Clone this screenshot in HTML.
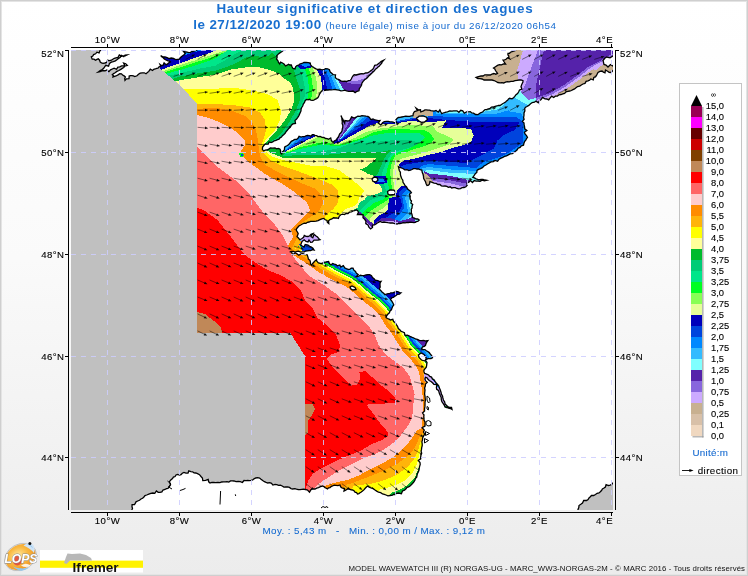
<!DOCTYPE html>
<html><head><meta charset="utf-8"><title>Hauteur significative et direction des vagues</title>
<style>html,body{margin:0;padding:0;background:#fff;}body{width:748px;height:576px;overflow:hidden;font-family:"Liberation Sans",sans-serif;}svg{display:block;will-change:transform;font-family:"Liberation Sans",sans-serif;}</style>
</head><body>
<svg width="748" height="576" viewBox="0 0 748 576">
<defs><linearGradient id="bg" x1="0" y1="0" x2="0" y2="1"><stop offset="0" stop-color="#ffffff"/><stop offset="0.45" stop-color="#fafafa"/><stop offset="1" stop-color="#ececec"/></linearGradient>
<clipPath id="mc"><rect x="71" y="50" width="542" height="460"/></clipPath>
<radialGradient id="lg" cx="0.45" cy="0.4" r="0.65"><stop offset="0" stop-color="#ffe9a0"/><stop offset="0.5" stop-color="#f9b840"/><stop offset="0.85" stop-color="#f09a28"/><stop offset="1" stop-color="#e8c890"/></radialGradient>
</defs>
<rect x="0" y="0" width="748" height="576" fill="url(#bg)"/>
<rect x="0.5" y="0.5" width="747" height="575" fill="none" stroke="#cfcfcf" stroke-width="1"/>
<rect x="1.5" y="1.5" width="745" height="573" fill="none" stroke="#e4e4e4" stroke-width="1"/>
<g clip-path="url(#mc)" shape-rendering="crispEdges">
<rect x="71" y="50" width="542" height="460" fill="#c0c0c0"/>
<g>
<polygon fill="#ff0000" points="160.0,40.0 160.0,68.5 175.0,81.0 185.0,90.5 197.0,104.0 197.0,332.5 290.0,332.5 305.0,356.0 305.0,500.0 450.0,500.0 613.0,300.0 613.0,40.0"/>
<polygon fill="#ff6666" points="100.0,207.5 197.0,207.5 205.0,211.0 217.5,220.0 227.5,232.5 235.0,242.5 245.0,255.0 255.0,262.5 267.5,270.0 280.0,275.0 291.5,281.3 301.0,290.9 305.0,300.0 313.0,309.0 317.6,318.0 326.6,324.8 335.6,333.8 340.0,345.0 339.0,351.9 331.0,354.5 326.6,358.7 333.3,367.7 342.4,376.7 351.4,385.7 357.0,384.6 360.4,379.0 359.3,372.2 365.0,371.0 371.7,376.7 378.5,383.5 387.5,390.2 394.3,397.0 397.6,402.4 385.2,403.5 369.4,403.5 367.2,405.8 374.0,414.8 380.7,423.8 387.5,431.7 388.6,435.0 383.0,439.6 371.7,444.0 360.4,450.9 349.0,455.4 337.9,460.0 328.8,464.4 319.8,469.0 313.0,473.5 308.5,480.0 306.3,487.0 304.0,492.0 304.0,520.0 460.0,520.0 620.0,300.0 620.0,30.0 100.0,30.0"/>
<polygon fill="#ffcccc" points="100.0,146.0 197.0,146.0 205.0,155.0 215.0,165.0 225.0,172.5 235.0,180.0 245.0,189.0 250.0,195.0 257.5,205.0 265.0,215.0 275.0,225.0 282.5,235.0 287.5,245.0 292.0,255.0 299.0,264.0 308.6,275.6 323.9,285.0 337.3,294.7 342.4,300.0 351.4,309.0 360.4,318.0 369.4,327.0 375.0,336.0 378.5,345.0 385.2,354.0 394.3,361.0 403.3,367.7 410.0,376.7 412.3,385.7 414.6,394.7 413.4,403.5 412.3,417.0 407.8,426.0 401.0,435.0 394.3,442.0 385.2,448.7 374.0,454.3 362.7,458.8 351.4,464.4 340.0,470.0 331.0,475.7 324.3,480.2 317.6,484.7 314.0,489.0 312.0,494.0 312.0,520.0 460.0,520.0 620.0,300.0 620.0,30.0 100.0,30.0"/>
<polygon fill="#ff8c00" points="100.0,115.0 197.0,115.0 207.5,117.5 220.0,122.5 232.5,129.0 240.0,135.0 245.0,141.0 244.5,146.0 241.0,151.0 243.0,157.0 250.0,163.0 265.0,174.0 280.0,182.5 295.0,192.5 307.0,202.5 310.0,210.0 300.0,220.0 291.0,229.0 293.0,237.0 288.0,246.0 291.5,253.7 304.8,262.3 318.2,271.8 333.4,280.4 346.8,287.0 356.3,294.7 362.0,300.0 371.0,307.0 379.5,315.5 385.2,324.8 392.0,333.8 397.6,342.9 403.3,351.9 410.0,358.7 415.7,365.4 419.0,372.2 420.6,381.2 422.0,390.2 423.0,400.0 423.0,415.0 421.5,428.0 416.8,430.6 412.3,437.4 407.8,444.0 401.0,451.0 392.0,457.7 380.7,464.4 369.4,470.0 358.2,475.7 346.9,480.2 335.6,482.5 328.8,484.7 322.0,487.0 320.0,494.0 320.0,520.0 460.0,520.0 620.0,300.0 620.0,30.0 100.0,30.0"/>
<polygon fill="#ffb40a" points="100.0,109.0 197.0,109.0 215.0,107.5 232.5,111.0 245.0,116.0 252.5,122.5 256.0,130.0 257.5,137.5 258.5,146.0 260.0,156.0 265.0,165.0 282.0,174.0 300.0,182.5 316.0,189.0 321.5,196.0 323.2,202.6 320.0,209.0 315.0,214.0 300.0,224.0 300.0,232.0 292.0,248.0 293.7,250.3 307.0,259.0 320.3,268.4 335.3,276.9 348.9,283.6 358.9,291.7 364.6,296.9 373.7,304.0 382.6,313.0 388.5,322.5 395.3,331.5 401.0,340.8 406.4,349.4 412.9,356.0 419.0,363.2 422.8,371.0 424.5,380.5 426.0,389.6 426.0,392.0 426.0,430.0 423.0,433.0 420.2,435.0 416.8,444.0 412.3,451.0 405.5,457.7 396.5,464.4 385.2,470.0 374.0,474.6 362.7,479.0 353.7,482.5 346.9,484.7 340.0,489.0 340.0,520.0 460.0,520.0 620.0,300.0 620.0,30.0 100.0,30.0"/>
<polygon fill="#ffff00" points="100.0,104.0 197.0,104.0 212.5,104.0 232.5,105.0 250.0,107.5 260.0,112.5 265.0,120.0 266.0,130.0 264.0,137.5 262.0,144.0 263.0,153.0 270.0,160.0 282.0,166.0 300.0,172.0 320.0,179.5 331.4,184.4 338.0,191.0 338.8,197.6 337.2,204.2 333.0,209.2 325.0,216.0 320.0,232.0 298.0,250.0 295.0,248.2 308.4,256.9 321.7,266.3 336.5,274.7 350.2,281.5 360.5,289.8 366.2,295.0 375.3,302.1 384.6,311.4 390.6,321.1 397.4,330.1 403.1,339.5 408.4,347.9 414.8,354.3 421.1,361.8 425.2,370.3 427.0,380.1 428.4,389.2 428.0,392.0 428.0,438.0 424.0,440.0 420.2,441.9 418.0,451.0 413.4,460.0 407.8,466.7 398.8,473.5 389.7,478.0 380.7,481.4 371.7,483.6 362.7,484.7 353.7,485.9 350.0,492.0 350.0,520.0 460.0,520.0 620.0,300.0 620.0,30.0 100.0,30.0"/>
<polygon fill="#ffff99" points="100.0,89.0 185.0,89.0 212.0,89.0 232.0,87.5 250.0,90.0 267.5,94.0 277.5,100.0 281.0,110.0 280.0,120.0 275.0,130.0 267.5,137.5 263.5,143.0 264.5,151.0 272.0,156.5 282.0,160.0 310.0,165.5 326.5,166.3 339.7,170.4 349.6,177.9 357.8,184.4 364.4,191.0 359.4,197.6 357.8,202.6 354.5,205.9 345.0,209.0 338.0,216.0 330.0,232.0 303.0,252.0 296.1,246.6 309.6,255.3 322.7,264.6 337.4,272.9 351.3,279.8 361.8,288.2 367.5,293.5 376.6,300.6 386.1,310.2 392.2,320.0 399.0,329.0 404.8,338.4 410.0,346.7 416.3,353.0 422.8,360.7 427.1,369.7 429.0,379.8 430.4,388.9 430.0,392.0 430.0,448.0 424.0,449.0 420.2,451.0 416.8,464.4 412.3,473.5 405.5,480.2 396.5,484.7 389.7,487.0 380.7,489.3 376.0,494.0 376.0,520.0 460.0,520.0 620.0,300.0 620.0,30.0 100.0,30.0"/>
<polygon fill="#00bb2d" points="100.0,81.5 175.0,81.5 180.0,80.2 200.0,77.0 214.0,74.9 231.0,69.5 246.0,67.4 260.0,67.4 271.7,70.6 279.0,73.8 283.4,78.0 290.0,82.4 293.0,88.0 294.0,95.0 294.0,102.0 291.0,110.0 284.6,121.0 277.0,130.0 269.0,139.0 264.0,144.5 266.0,150.0 272.0,153.5 282.0,157.5 310.0,158.0 345.0,158.0 376.0,158.0 371.0,163.0 366.0,167.0 360.3,169.6 367.7,173.7 375.0,176.0 376.0,182.8 380.9,186.0 382.5,191.0 376.0,194.3 366.0,196.8 364.4,200.0 359.4,202.6 357.8,207.5 354.5,209.0 352.0,216.0 340.0,232.0 308.0,254.0 296.9,245.3 310.4,254.0 323.5,263.4 338.1,271.6 352.1,278.5 362.8,287.1 368.4,292.3 377.6,299.5 387.3,309.3 393.5,319.2 400.2,328.1 406.1,337.6 411.2,345.7 417.4,351.9 424.0,359.9 428.6,369.2 430.5,379.6 431.9,388.7 432.0,392.0 432.0,460.0 424.0,462.0 419.0,466.7 414.6,478.0 407.8,484.7 401.0,489.3 392.0,492.6 388.0,497.0 388.0,520.0 460.0,520.0 620.0,300.0 620.0,30.0 100.0,30.0"/>
<polygon fill="#00ff22" points="312.0,256.0 297.5,244.5 311.0,253.2 324.1,262.5 338.6,270.7 352.6,277.7 363.4,286.3 369.1,291.6 378.3,298.8 388.1,308.6 394.3,318.6 401.1,327.6 406.9,337.1 412.0,345.1 418.1,351.3 424.9,359.3 429.5,368.9 431.5,379.4 432.9,388.5 440.0,392.0 460.0,392.0 460.0,250.0"/>
<polygon fill="#0044dd" points="312.0,256.0 298.1,243.5 311.6,252.2 324.7,261.5 339.1,269.6 353.3,276.7 364.2,285.4 369.8,290.6 379.1,297.9 389.0,307.9 395.3,317.9 402.1,326.9 407.9,336.4 412.9,344.4 419.0,350.4 425.9,358.6 430.7,368.6 432.6,379.2 434.1,388.3 440.0,392.0 460.0,392.0 460.0,250.0"/>
<polygon fill="#0088ff" points="312.0,256.0 299.1,241.9 312.7,250.7 325.7,260.0 340.0,268.0 354.2,275.1 365.4,284.1 371.0,289.3 380.3,296.5 390.4,306.8 396.8,316.9 403.5,325.9 409.5,335.5 414.3,343.3 420.3,349.2 427.3,357.6 432.4,368.1 434.4,378.9 435.8,388.0 440.0,392.0 460.0,392.0 460.0,250.0"/>
<polygon fill="#33bbff" points="312.0,256.0 300.2,240.3 313.8,249.1 326.8,258.3 340.9,266.3 355.3,273.4 366.7,282.5 372.3,287.7 381.6,295.0 392.0,305.5 398.4,315.8 405.2,324.8 411.2,334.4 415.9,342.0 421.8,347.9 429.0,356.5 434.3,367.5 436.4,378.6 437.8,387.7 440.0,392.0 460.0,392.0 460.0,250.0"/>
<polygon fill="#5522aa" points="426.8,311.6 406.8,323.6 412.9,333.4 417.5,340.8 423.3,346.5 430.7,355.4 436.2,366.9 438.4,378.2 439.8,387.4 440.0,392.0 460.0,392.0 460.0,320.0"/>
<polygon fill="#0000bb" points="312.0,256.0 301.5,238.2 315.2,247.0 328.1,256.2 342.1,264.1 356.6,271.3 368.3,280.6 373.9,285.8 383.3,293.2 394.0,304.0 400.5,314.4 460.0,322.0 460.0,250.0"/>
<polygon fill="#ccaaff" points="424.0,372.0 430.0,376.0 440.0,390.0 452.0,410.0 440.0,402.0 430.0,388.0 424.0,380.0"/>
<polygon fill="#ccaaff" points="301.0,233.0 322.0,233.0 322.0,243.0 301.0,243.0"/>
<polygon fill="#0044dd" points="302.0,244.0 316.0,244.0 316.0,251.0 302.0,251.0"/>
<polygon fill="#00ff22" points="239.0,153.5 242.0,152.5 244.0,154.5 243.0,157.0 240.0,157.0"/>
<polygon fill="#0044dd" points="240.5,154.5 242.5,154.0 243.0,156.0 241.0,156.3"/>
<polygon fill="#c08858" points="197.0,312.0 205.0,314.0 214.0,321.0 221.0,327.0 222.0,332.5 197.0,332.5"/>
<polygon fill="#c08858" points="305.0,403.5 313.0,404.5 315.0,409.0 312.0,415.0 308.5,420.0 307.5,433.0 305.0,435.0"/>
<polygon fill="#00cc77" points="283.0,156.0 290.0,155.6 300.0,155.1 323.0,155.0 340.0,153.5 350.0,152.0 380.0,152.0 391.0,150.0 386.0,156.0 384.0,159.0 381.0,166.0 377.0,175.0 375.0,176.0 376.0,182.8 380.9,186.0 382.5,191.0 376.0,194.3 366.0,196.8 364.4,200.0 359.4,202.6 357.8,207.5 354.5,209.0 352.0,216.0 352.0,232.0 460.0,232.0 545.0,150.0 620.0,90.0 620.0,30.0 470.0,30.0 470.0,95.0 420.0,100.0 300.0,130.0"/>
<polygon fill="#00e68a" points="284.0,154.5 290.0,153.7 300.0,151.9 323.0,151.4 340.0,148.0 350.0,143.7 375.0,142.0 395.0,140.0 410.0,140.0 420.5,143.0 415.0,146.0 407.0,148.5 395.0,151.5 391.0,154.0 387.0,161.0 383.0,170.0 381.0,178.0 384.0,184.0 386.0,191.0 380.0,197.0 370.0,200.0 366.0,204.0 361.0,209.0 358.0,216.0 358.0,232.0 460.0,232.0 545.0,150.0 620.0,90.0 620.0,30.0 470.0,30.0 470.0,95.0 420.0,100.0 300.0,130.0"/>
<polygon fill="#00ff22" points="285.0,153.0 290.0,152.3 300.0,149.0 312.0,146.5 323.0,144.4 337.0,146.5 348.0,144.0 358.3,140.5 371.6,135.7 387.0,132.9 419.0,132.9 425.4,137.2 420.0,142.6 415.7,145.0 407.0,149.3 395.0,153.6 391.0,158.0 388.0,166.0 386.0,176.0 388.0,183.0 389.5,191.0 384.0,199.0 374.0,203.0 369.0,207.0 364.0,211.0 361.0,216.0 361.0,232.0 460.0,232.0 545.0,150.0 620.0,90.0 620.0,30.0 470.0,30.0 470.0,95.0 420.0,100.0 300.0,130.0"/>
<polygon fill="#88ff55" points="286.0,152.0 290.0,151.5 300.0,147.2 312.0,144.5 323.0,142.0 330.0,143.5 337.0,145.2 345.0,143.5 353.5,140.5 362.0,138.0 374.0,132.0 393.0,128.5 410.0,129.5 424.0,130.0 430.0,133.0 433.9,139.0 431.5,142.6 425.4,145.7 415.7,148.7 407.0,151.7 395.0,155.4 393.0,160.0 391.0,166.0 390.0,172.0 391.0,180.0 392.0,190.0 388.0,200.0 378.0,206.0 372.0,210.0 367.0,214.0 364.0,218.0 364.0,232.0 460.0,232.0 545.0,150.0 620.0,90.0 620.0,30.0 470.0,30.0 470.0,95.0 420.0,100.0 300.0,130.0"/>
<polygon fill="#e6ff99" points="287.0,151.0 290.0,150.5 300.0,145.3 310.0,141.0 318.0,137.0 325.0,137.0 333.0,141.0 336.0,144.5 345.0,142.0 354.7,138.0 365.5,132.0 380.0,128.5 393.0,127.0 410.0,125.0 432.5,126.0 437.0,131.5 449.3,137.0 454.0,140.0 449.0,144.5 440.0,147.5 428.0,151.5 415.0,155.0 402.0,158.5 396.0,161.0 394.0,166.0 393.0,172.0 393.5,182.0 394.0,192.0 391.0,202.0 382.0,209.0 375.0,213.0 370.0,218.0 370.0,232.0 460.0,232.0 545.0,150.0 620.0,90.0 620.0,30.0 470.0,30.0 470.0,95.0 420.0,100.0 300.0,130.0"/>
<polygon fill="#0000bb" points="284.0,152.5 287.2,150.5 300.0,144.0 306.9,140.2 313.4,137.4 317.2,135.5 325.0,136.0 333.0,140.5 334.5,143.5 339.0,142.3 347.5,138.0 358.3,132.0 369.0,126.0 378.8,122.4 384.0,124.0 395.0,123.5 410.0,121.0 427.8,122.2 437.0,121.5 446.5,120.3 441.8,127.8 455.0,128.0 470.8,128.7 473.6,135.3 470.8,142.3 461.5,145.6 451.2,148.4 440.9,152.1 428.7,154.9 414.7,158.7 404.0,160.5 399.0,164.0 401.0,171.0 403.0,179.0 406.0,186.0 397.0,190.0 396.0,196.0 394.0,203.0 386.0,212.0 378.0,216.0 374.0,221.0 374.0,232.0 460.0,232.0 545.0,150.0 620.0,90.0 620.0,30.0 470.0,30.0 470.0,95.0 420.0,100.0 300.0,130.0"/>
<polygon fill="#0044dd" points="428.0,105.0 428.0,118.0 444.6,119.8 469.4,121.5 496.5,121.7 520.0,121.7 515.0,129.8 504.0,135.0 497.5,140.5 493.5,148.5 484.0,153.8 473.4,159.2 466.0,163.0 451.4,162.0 428.8,160.5 415.0,163.0 406.3,164.5 401.0,166.0 410.0,180.0 460.0,232.0 545.0,150.0 620.0,90.0 620.0,30.0 470.0,30.0 470.0,95.0"/>
<polygon fill="#0088ff" points="432.0,105.0 432.0,116.0 453.0,117.0 496.5,117.0 515.0,116.5 523.0,121.7 523.0,143.0 515.0,148.5 507.0,153.8 497.5,157.8 484.0,161.8 476.0,168.0 451.4,166.0 428.8,164.0 421.0,166.0 410.0,180.0 460.0,232.0 545.0,150.0 620.0,90.0 620.0,30.0 470.0,30.0 470.0,95.0"/>
<polygon fill="#33bbff" points="436.0,105.0 436.0,114.5 453.0,114.0 496.5,113.7 510.0,110.0 520.0,112.0 525.5,120.0 525.5,144.0 517.0,150.5 509.0,156.0 499.5,160.0 486.0,164.5 478.0,171.0 451.4,169.5 428.8,167.0 423.0,168.0 410.0,180.0 460.0,232.0 545.0,150.0 620.0,90.0 620.0,30.0 470.0,30.0 470.0,95.0"/>
<polygon fill="#80ffff" points="440.0,105.0 440.0,113.0 452.0,112.5 469.4,113.0 485.0,111.5 497.0,109.5 505.0,104.5 515.0,100.0 523.0,104.0 527.5,112.0 527.5,145.0 519.0,152.5 511.0,158.0 501.5,162.0 488.0,167.5 480.0,174.0 451.4,173.0 428.8,170.0 424.0,171.0 410.0,180.0 460.0,232.0 545.0,150.0 620.0,90.0 620.0,30.0 470.0,30.0 470.0,95.0"/>
<polygon fill="#5522aa" points="424.0,171.0 428.8,173.5 451.4,176.0 470.0,180.5 470.0,195.0 420.0,195.0"/>
<polygon fill="#8866dd" points="424.0,176.0 428.8,177.5 451.4,180.5 468.0,184.0 468.0,195.0 420.0,195.0"/>
<polygon fill="#ccaaff" points="424.0,179.0 428.8,180.3 451.4,183.5 465.0,187.0 465.0,195.0 420.0,195.0"/>
<polygon fill="#c8b090" points="421.0,172.0 426.0,174.0 431.0,179.0 433.5,183.0 436.0,186.0 436.0,195.0 420.0,195.0"/>
<polygon fill="#33bbff" points="504.0,104.0 508.0,99.0 516.0,95.0 522.0,102.0 528.0,104.0 527.0,112.0 522.0,113.0 510.0,112.0"/>
<polygon fill="#80ffff" points="514.0,97.0 521.0,92.0 528.0,100.0 536.0,98.0 537.0,103.0 528.0,105.0 522.0,102.0"/>
<polygon fill="#c8b090" points="470.0,40.0 523.0,40.0 523.0,50.0 520.0,61.0 517.0,71.0 520.0,82.0 521.0,88.0 470.0,95.0"/>
<polygon fill="#ccaaff" points="523.0,40.0 538.0,40.0 538.0,50.0 530.0,71.0 525.0,85.0 521.0,92.0 519.0,86.0 517.0,71.0 520.0,61.0 523.0,50.0"/>
<polygon fill="#8866dd" points="538.0,40.0 544.0,40.0 544.0,50.0 539.0,71.0 536.0,85.0 536.0,98.0 528.0,100.0 521.0,92.0 525.0,85.0 530.0,71.0 538.0,50.0"/>
<polygon fill="#5522aa" points="544.0,40.0 620.0,40.0 620.0,50.0 610.0,55.0 598.0,62.0 588.0,67.0 578.0,75.0 564.0,85.0 550.0,93.0 536.0,98.0 536.0,85.0 539.0,71.0 544.0,50.0"/>
<polygon fill="#8866dd" points="536.0,98.0 550.0,93.0 564.0,85.0 578.0,75.0 588.0,67.0 598.0,62.0 610.0,55.0 620.0,50.0 620.0,110.0 536.0,110.0"/>
<polygon fill="#ccaaff" points="537.1,99.9 551.1,94.9 565.1,86.9 579.1,76.9 589.1,68.9 599.1,63.9 611.1,56.9 621.1,51.9 620.0,110.0 540.0,110.0"/>
<polygon fill="#c8b090" points="538.3,102.0 552.3,97.0 566.3,89.0 580.3,79.0 590.3,71.0 600.3,66.0 612.3,59.0 622.3,54.0 620.0,110.0 545.0,110.0"/>
<polygon fill="#ccaaff" points="590.0,68.0 598.0,63.5 608.0,58.0 613.0,56.0 620.0,56.0 620.0,70.0 600.0,72.0"/>
<polygon fill="#c8b090" points="596.0,70.0 601.0,66.0 606.0,62.5 613.0,60.0 620.0,60.0 620.0,80.0 600.0,80.0"/>
<polygon fill="#0044dd" points="338.0,141.5 390.8,107.4 342.4,107.4"/>
<polygon fill="#0088ff" points="338.0,141.5 379.8,107.4 342.4,107.4"/>
<polygon fill="#33bbff" points="338.0,141.5 374.3,107.4 342.4,107.4"/>
<polygon fill="#80ffff" points="338.0,141.5 369.5,107.4 342.4,107.4"/>
<polygon fill="#5522aa" points="338.0,141.5 364.4,107.4 342.4,107.4"/>
<polygon fill="#8866dd" points="338.0,141.5 357.4,107.4 342.4,107.4"/>
<polygon fill="#0000bb" points="402.0,186.0 397.0,190.0 396.0,196.0 394.0,203.0 386.0,212.0 378.0,216.0 374.0,221.0 374.0,232.0 420.0,232.0 420.0,186.0"/>
<polygon fill="#0044dd" points="404.0,188.0 399.5,192.0 399.0,198.0 399.5,203.0 397.0,209.0 392.0,214.0 385.0,218.0 380.0,224.0 380.0,232.0 420.0,232.0 420.0,188.0"/>
<polygon fill="#0088ff" points="406.0,190.0 402.0,195.0 403.0,200.0 404.0,208.0 401.0,213.0 396.0,217.0 392.0,221.0 392.0,232.0 420.0,232.0 420.0,190.0"/>
<polygon fill="#33bbff" points="408.0,193.0 405.0,198.0 407.0,205.0 408.0,212.0 405.0,216.0 400.0,220.0 400.0,232.0 420.0,232.0 420.0,193.0"/>
<polygon fill="#80ffff" points="410.0,197.0 408.5,202.0 410.0,210.0 411.0,216.0 406.0,220.0 406.0,232.0 420.0,232.0 420.0,197.0"/>
<polygon fill="#0000bb" points="374.0,176.5 386.0,176.0 387.5,183.0 378.0,184.5 374.0,183.0"/>
<polygon fill="#0088ff" points="376.0,178.0 383.0,177.5 384.5,181.5 377.0,182.5"/>
<polygon fill="#0000bb" points="389.0,198.0 395.0,197.0 401.0,199.0 402.0,206.0 399.0,212.0 392.0,213.0 388.0,208.0"/>
<polygon fill="#5522aa" points="357.0,211.0 362.0,213.0 368.0,220.0 374.0,224.0 382.0,218.0 392.0,218.5 400.0,221.0 408.0,219.0 414.0,216.0 416.0,222.0 400.0,230.0 372.0,232.0 360.0,220.0"/>
<polygon fill="#ccaaff" points="362.0,216.0 367.0,223.0 372.0,227.0 378.0,222.0 386.0,220.5 394.0,221.5 402.0,223.5 410.0,222.0 416.0,224.0 400.0,230.0 372.0,232.0"/>
<polygon fill="#0044dd" points="283.0,152.0 310.0,137.5 310.0,128.0 283.0,140.0"/>
<polygon fill="#0088ff" points="283.0,152.0 303.0,138.0 303.0,128.0 283.0,140.0"/>
<polygon fill="#33bbff" points="283.0,152.0 297.0,139.5 297.0,128.0 283.0,140.0"/>
<polygon fill="#0044dd" points="380.0,120.0 380.0,123.0 395.0,122.5 410.0,120.0 416.0,118.5 428.0,118.0 428.0,105.0 380.0,105.0"/>
<polygon fill="#33bbff" points="380.0,120.0 380.0,122.0 395.0,121.5 410.0,118.5 416.0,117.0 428.0,116.5 428.0,105.0 380.0,105.0"/>
<polygon fill="#c8b090" points="413.0,106.0 433.0,106.0 433.0,116.5 428.0,116.0 422.0,115.0 416.0,117.5 413.0,118.0"/>
<polygon fill="#00cc77" points="293.0,60.0 293.0,66.0 296.0,77.0 300.0,90.0 300.0,100.0 296.0,110.0 290.0,121.0 283.0,131.0 277.0,138.0 268.0,143.0 262.0,146.0 300.0,130.0 330.0,100.0 400.0,100.0 400.0,50.0 293.0,50.0"/>
<polygon fill="#00e68a" points="299.0,60.0 299.0,66.0 302.7,77.0 305.0,88.0 304.5,97.0 301.0,105.0 297.0,113.0 310.0,110.0 330.0,100.0 400.0,100.0 400.0,50.0 299.0,50.0"/>
<polygon fill="#00ff22" points="304.0,60.0 304.0,66.0 307.5,77.0 309.0,88.0 308.0,97.0 305.0,103.0 315.0,105.0 330.0,100.0 400.0,100.0 400.0,50.0 304.0,50.0"/>
<polygon fill="#88ff55" points="308.0,60.0 308.0,66.0 311.3,77.0 313.0,88.0 311.5,97.0 309.0,101.0 330.0,100.0 400.0,100.0 400.0,50.0 308.0,50.0"/>
<polygon fill="#e6ff99" points="312.0,60.0 312.0,66.0 316.0,77.0 317.5,88.0 316.0,97.0 330.0,100.0 400.0,100.0 400.0,50.0 312.0,50.0"/>
<polygon fill="#0000bb" points="316.0,60.0 316.0,68.0 320.8,77.0 322.5,88.0 321.0,95.0 330.0,100.0 400.0,100.0 400.0,50.0 316.0,50.0"/>
<polygon fill="#0044dd" points="320.0,60.0 320.0,68.0 324.7,77.0 327.0,88.0 327.0,95.0 330.0,100.0 400.0,100.0 400.0,50.0 320.0,50.0"/>
<polygon fill="#0088ff" points="324.0,60.0 324.0,69.0 328.5,77.0 332.0,88.0 332.0,100.0 400.0,100.0 400.0,50.0 324.0,50.0"/>
<polygon fill="#33bbff" points="328.0,60.0 328.0,69.0 331.3,77.0 336.0,88.0 336.0,100.0 400.0,100.0 400.0,50.0 328.0,50.0"/>
<polygon fill="#80ffff" points="331.0,60.0 331.0,70.0 334.0,77.0 340.0,89.0 340.0,100.0 400.0,100.0 400.0,50.0 331.0,50.0"/>
<polygon fill="#5522aa" points="334.0,60.0 334.0,74.0 337.0,78.5 344.0,90.0 344.0,100.0 400.0,100.0 400.0,50.0 334.0,50.0"/>
<polygon fill="#8866dd" points="339.0,79.0 345.0,82.0 355.0,84.5 363.0,84.0 372.0,75.0 384.0,62.0 390.0,50.0 340.0,50.0"/>
<polygon fill="#ccaaff" points="343.0,78.0 350.0,81.0 357.0,81.0 365.0,78.0 373.0,71.0 384.0,60.0 390.0,50.0 343.0,50.0"/>
<polygon fill="#c8b090" points="371.0,68.0 376.0,64.0 382.0,59.0 390.0,50.0 371.0,50.0"/>
<polygon fill="#0000bb" points="297.0,66.0 300.0,63.0 305.0,62.0 311.0,63.0 313.0,67.0 306.0,68.5 300.0,68.5"/>
<polygon fill="#0088ff" points="299.0,64.5 303.0,62.5 309.0,63.0 311.0,66.0 305.0,66.8"/>
<polygon fill="#00cc77" points="165.0,80.0 172.0,79.0 180.0,76.5 200.0,73.0 215.0,70.8 225.7,67.4 236.4,63.1 245.0,57.8 252.4,56.2 263.0,56.7 268.5,55.6 272.8,52.4 275.0,50.3 276.0,45.0 276.0,40.0 150.0,40.0 150.0,80.0"/>
<polygon fill="#00e68a" points="162.0,78.0 169.0,75.5 180.0,73.3 200.0,68.5 215.0,65.8 225.7,59.9 234.3,54.6 241.7,50.3 243.0,45.0 243.0,40.0 150.0,40.0 150.0,78.0"/>
<polygon fill="#00ff22" points="160.0,76.0 167.0,73.5 180.0,70.0 200.0,64.0 215.0,58.8 221.4,54.6 226.8,50.3 228.0,45.0 228.0,40.0 150.0,40.0 150.0,76.0"/>
<polygon fill="#88ff55" points="158.0,75.0 165.5,72.0 180.0,67.4 200.0,61.0 214.0,56.7 225.0,52.0 231.0,48.0 232.0,45.0 232.0,40.0 150.0,40.0 150.0,75.0"/>
<polygon fill="#e6ff99" points="157.0,74.0 164.0,70.8 180.0,65.3 200.0,58.7 214.0,54.0 226.0,50.0 228.0,45.0 228.0,40.0 150.0,40.0 150.0,74.0"/>
<polygon fill="#0000bb" points="155.0,73.0 162.0,69.4 180.0,63.1 200.0,56.2 214.0,51.3 217.8,50.0 219.0,45.0 219.0,40.0 150.0,40.0 150.0,73.0"/>
<polygon fill="#0088ff" points="186.0,55.0 192.0,52.5 200.0,51.0 204.0,50.0 205.0,45.0 186.0,45.0 186.0,40.0 150.0,40.0 150.0,55.0"/>
<polygon fill="#00cc77" points="268.0,50.0 276.0,56.0 277.0,62.0 281.0,65.0 290.0,62.0 285.0,50.0"/>
<polygon fill="#c0c0c0" points="60.0,40.0 160.0,40.0 160.0,68.5 175.0,81.0 185.0,90.5 197.0,104.0 197.0,332.5 290.0,332.5 305.0,356.0 305.0,520.0 60.0,520.0"/>
</g></g>
<g clip-path="url(#mc)">
<path d="M173.6 59.4L180.6 56.3M185.6 59.4L192.4 55.8M197.6 59.4L204.3 55.6M209.6 59.4L216.4 55.7M221.6 59.4L228.6 56.1M233.7 59.4L240.6 56.1M245.7 59.4L252.5 55.8M257.7 59.4L264.6 55.9M269.7 59.4L276.8 56.3M510.1 59.4L517.0 56.0M522.1 59.4L529.0 55.9M534.2 59.4L541.0 55.8M546.2 59.4L553.0 55.8M558.2 59.4L565.2 56.1M570.2 59.4L577.4 56.5M582.2 59.4L589.4 56.5M594.3 59.4L601.6 57.1M173.6 76.4L180.9 74.1M185.6 76.4L192.8 73.8M197.6 76.4L204.8 73.6M209.6 76.4L216.8 73.7M221.6 76.4L228.9 73.9M233.7 76.4L240.9 73.8M245.7 76.4L252.9 73.7M257.7 76.4L264.9 73.7M269.7 76.4L277.0 73.9M281.7 76.4L289.0 73.9M293.8 76.4L300.9 73.5M305.8 76.4L312.9 73.4M317.8 76.4L324.7 72.9M329.8 76.4L336.6 72.8M353.9 76.4L360.5 72.5M365.9 76.4L372.6 72.5M486.1 76.4L493.2 73.4M498.1 76.4L505.1 73.1M510.1 76.4L517.0 72.9M522.1 76.4L529.0 72.8M534.2 76.4L541.0 72.8M546.2 76.4L553.0 72.8M558.2 76.4L565.1 73.0M570.2 76.4L577.4 73.6M582.2 76.4L589.7 74.3M594.3 76.4L601.8 74.8M197.6 93.3L205.2 92.3M209.6 93.3L217.2 92.2M221.6 93.3L229.2 92.1M233.7 93.3L241.2 91.7M245.7 93.3L253.2 91.5M257.7 93.3L265.2 91.5M269.7 93.3L277.2 91.7M281.7 93.3L289.3 91.7M293.8 93.3L300.9 90.5M305.8 93.3L312.9 90.5M317.8 93.3L324.9 90.3M522.1 93.3L528.8 89.5M534.2 93.3L540.8 89.5M546.2 93.3L553.0 89.7M558.2 93.3L565.1 90.0M197.6 110.3L205.3 110.2M209.6 110.3L217.3 110.2M221.6 110.3L229.3 110.1M233.7 110.3L241.3 109.9M245.7 110.3L253.4 109.7M257.7 110.3L265.4 109.6M269.7 110.3L277.4 109.5M281.7 110.3L289.4 109.5M293.8 110.3L301.3 108.8M486.1 110.3L493.5 108.3M498.1 110.3L505.3 107.5M510.1 110.3L516.9 106.7M522.1 110.3L528.8 106.5M197.6 127.3L205.3 128.0M209.6 127.3L217.3 127.9M221.6 127.3L229.3 127.8M233.7 127.3L241.4 127.6M245.7 127.3L253.4 127.5M257.7 127.3L265.4 127.4M269.7 127.3L277.4 127.2M281.7 127.3L289.4 127.0M353.9 127.3L361.3 125.3M365.9 127.3L373.3 125.2M377.9 127.3L385.2 124.8M389.9 127.3L397.0 124.2M401.9 127.3L408.9 124.0M414.0 127.3L421.1 124.4M426.0 127.3L433.1 124.4M438.0 127.3L445.2 124.5M450.0 127.3L457.5 125.5M462.0 127.3L469.7 126.2M474.1 127.3L481.7 126.2M486.1 127.3L493.7 126.1M498.1 127.3L505.7 126.0M510.1 127.3L517.7 126.1M522.1 127.3L529.8 126.2M197.6 144.2L205.2 145.6M209.6 144.2L217.2 145.5M221.6 144.2L229.3 145.3M233.7 144.2L241.3 145.1M245.7 144.2L253.4 144.9M257.7 144.2L265.4 144.8M293.8 144.2L301.2 142.3M305.8 144.2L313.3 142.4M317.8 144.2L325.4 142.9M329.8 144.2L337.4 142.8M341.8 144.2L349.2 142.0M353.9 144.2L361.2 141.9M365.9 144.2L373.3 142.3M377.9 144.2L385.4 142.6M389.9 144.2L397.4 142.4M401.9 144.2L409.4 142.3M414.0 144.2L421.4 142.4M426.0 144.2L433.5 142.7M438.0 144.2L445.6 143.1M450.0 144.2L457.6 143.2M462.0 144.2L469.7 143.2M474.1 144.2L481.7 143.3M486.1 144.2L493.7 143.6M498.1 144.2L505.8 143.6M510.1 144.2L517.8 143.6M522.1 144.2L529.8 143.4M197.6 161.2L205.1 162.8M209.6 161.2L217.2 162.8M221.6 161.2L229.2 162.6M233.7 161.2L241.3 162.3M245.7 161.2L253.3 162.3M257.7 161.2L265.3 162.3M269.7 161.2L277.4 161.8M281.7 161.2L289.4 161.3M293.8 161.2L301.5 161.2M305.8 161.2L313.5 161.4M317.8 161.2L325.5 161.3M329.8 161.2L337.5 161.2M341.8 161.2L349.5 161.2M353.9 161.2L361.6 161.1M365.9 161.2L373.6 161.0M377.9 161.2L385.6 161.1M389.9 161.2L397.6 161.3M401.9 161.2L409.6 161.4M414.0 161.2L421.7 161.1M426.0 161.2L433.7 160.8M438.0 161.2L445.7 161.0M450.0 161.2L457.7 161.1M462.0 161.2L469.7 161.1M474.1 161.2L481.8 161.0M486.1 161.2L493.8 161.3M197.6 178.2L205.0 180.2M209.6 178.2L217.1 180.2M221.6 178.2L229.1 180.0M233.7 178.2L241.2 179.6M245.7 178.2L253.3 179.3M257.7 178.2L265.3 179.1M269.7 178.2L277.4 179.0M281.7 178.2L289.4 179.0M293.8 178.2L301.4 178.6M305.8 178.2L313.5 178.6M317.8 178.2L325.5 178.8M329.8 178.2L337.5 178.8M341.8 178.2L349.5 178.7M353.9 178.2L361.5 178.7M365.9 178.2L373.6 178.8M377.9 178.2L385.6 178.9M389.9 178.2L397.6 178.8M426.0 178.2L433.7 178.7M438.0 178.2L445.6 179.1M450.0 178.2L457.6 179.3M462.0 178.2L469.7 179.2M474.1 178.2L481.7 178.7M197.6 195.2L204.9 197.5M209.6 195.2L217.0 197.5M221.6 195.2L229.0 197.3M233.7 195.2L241.1 197.0M245.7 195.2L253.2 196.7M257.7 195.2L265.3 196.4M269.7 195.2L277.3 196.4M281.7 195.2L289.3 196.5M293.8 195.2L301.3 196.5M305.8 195.2L313.4 196.4M317.8 195.2L325.4 196.3M329.8 195.2L337.4 196.4M341.8 195.2L349.4 196.4M353.9 195.2L361.5 196.3M365.9 195.2L373.5 196.1M377.9 195.2L385.5 196.2M389.9 195.2L397.5 196.2M401.9 195.2L409.6 196.2M197.6 212.1L204.8 214.8M209.6 212.1L216.9 214.7M221.6 212.1L228.9 214.6M233.7 212.1L241.0 214.3M245.7 212.1L253.1 214.0M257.7 212.1L265.2 213.8M269.7 212.1L277.2 213.8M281.7 212.1L289.3 213.7M293.8 212.1L301.3 213.7M305.8 212.1L313.3 213.7M317.8 212.1L325.4 213.6M329.8 212.1L337.4 213.6M341.8 212.1L349.4 213.6M365.9 212.1L373.5 213.3M377.9 212.1L385.5 213.3M389.9 212.1L397.5 213.4M401.9 212.1L409.5 213.5M197.6 229.1L204.7 232.0M209.6 229.1L216.8 232.0M221.6 229.1L228.8 231.8M233.7 229.1L241.0 231.6M245.7 229.1L253.1 231.3M257.7 229.1L265.1 231.2M269.7 229.1L277.2 231.1M281.7 229.1L289.2 231.1M293.8 229.1L301.2 231.1M197.6 246.1L204.7 249.1M209.6 246.1L216.7 249.1M221.6 246.1L228.8 248.9M233.7 246.1L240.9 248.7M245.7 246.1L253.0 248.5M257.7 246.1L265.0 248.4M269.7 246.1L277.1 248.4M281.7 246.1L289.1 248.4M293.8 246.1L301.1 248.4M305.8 246.1L313.1 248.4M197.6 263.0L204.6 266.2M209.6 263.0L216.7 266.2M221.6 263.0L228.7 266.0M233.7 263.0L240.8 265.8M245.7 263.0L252.9 265.7M257.7 263.0L265.0 265.6M269.7 263.0L277.0 265.7M281.7 263.0L288.9 265.8M293.8 263.0L300.9 265.8M305.8 263.0L313.0 265.7M317.8 263.0L325.1 265.6M197.6 280.0L204.7 283.0M209.6 280.0L216.7 283.0M221.6 280.0L228.8 282.9M233.7 280.0L240.8 282.9M245.7 280.0L252.8 282.9M257.7 280.0L264.9 282.9M269.7 280.0L276.9 282.7M281.7 280.0L289.0 282.7M293.8 280.0L301.0 282.6M305.8 280.0L313.1 282.5M317.8 280.0L325.1 282.5M329.8 280.0L337.1 282.5M341.8 280.0L349.2 282.2M353.9 280.0L361.3 281.9M365.9 280.0L373.4 281.7M197.6 297.0L204.7 299.9M209.6 297.0L216.7 300.0M221.6 297.0L228.7 300.1M233.7 297.0L240.7 300.2M245.7 297.0L252.7 300.2M257.7 297.0L264.7 300.2M269.7 297.0L276.8 300.1M281.7 297.0L288.9 299.8M293.8 297.0L301.0 299.7M305.8 297.0L313.0 299.6M317.8 297.0L325.1 299.4M329.8 297.0L337.2 299.2M341.8 297.0L349.3 299.0M353.9 297.0L361.3 298.9M365.9 297.0L373.4 298.8M377.9 297.0L385.4 298.7M389.9 297.0L397.5 298.6M197.6 313.9L204.6 317.2M209.6 313.9L216.6 317.2M221.6 313.9L228.7 317.1M233.7 313.9L240.7 317.1M245.7 313.9L252.7 317.1M257.7 313.9L264.7 317.1M269.7 313.9L276.8 316.9M281.7 313.9L288.9 316.8M293.8 313.9L300.9 316.8M305.8 313.9L312.9 316.8M317.8 313.9L325.0 316.6M329.8 313.9L337.2 316.2M341.8 313.9L349.3 316.0M353.9 313.9L361.3 315.9M365.9 313.9L373.3 315.9M377.9 313.9L385.4 315.5M197.6 330.9L204.5 334.3M209.6 330.9L216.5 334.3M221.6 330.9L228.6 334.2M233.7 330.9L240.7 334.0M245.7 330.9L252.8 333.9M257.7 330.9L264.8 333.8M269.7 330.9L276.9 333.8M281.7 330.9L288.9 333.7M293.8 330.9L300.9 333.7M305.8 330.9L313.0 333.7M317.8 330.9L325.0 333.5M329.8 330.9L337.2 333.3M341.8 330.9L349.2 333.1M353.9 330.9L361.3 333.0M365.9 330.9L373.3 332.9M377.9 330.9L385.4 332.7M389.9 330.9L397.5 332.4M305.8 347.9L312.9 350.8M317.8 347.9L325.0 350.7M329.8 347.9L337.1 350.3M341.8 347.9L349.2 350.1M353.9 347.9L361.3 350.0M365.9 347.9L373.3 350.0M377.9 347.9L385.3 349.9M389.9 347.9L397.5 349.5M401.9 347.9L409.5 349.2M414.0 347.9L421.5 349.2M305.8 364.9L312.9 367.8M317.8 364.9L324.9 367.7M329.8 364.9L337.0 367.5M341.8 364.9L349.1 367.3M353.9 364.9L361.2 367.2M365.9 364.9L373.2 367.2M377.9 364.9L385.3 367.1M389.9 364.9L397.4 366.8M401.9 364.9L409.4 366.6M414.0 364.9L421.5 366.5M426.0 364.9L433.5 366.6M305.8 381.8L312.8 385.1M317.8 381.8L324.8 385.0M329.8 381.8L336.9 384.8M341.8 381.8L349.1 384.4M353.9 381.8L361.1 384.3M365.9 381.8L373.2 384.3M377.9 381.8L385.2 384.3M389.9 381.8L397.3 384.0M401.9 381.8L409.4 383.7M414.0 381.8L421.5 383.6M305.8 398.8L312.6 402.3M317.8 398.8L324.7 402.2M329.8 398.8L336.8 402.0M341.8 398.8L349.0 401.6M353.9 398.8L361.1 401.4M365.9 398.8L373.1 401.4M377.9 398.8L385.2 401.4M389.9 398.8L397.3 401.0M401.9 398.8L409.4 400.6M414.0 398.8L421.5 400.2M305.8 415.8L312.6 419.4M317.8 415.8L324.6 419.4M329.8 415.8L336.7 419.2M341.8 415.8L348.9 418.9M353.9 415.8L361.0 418.6M365.9 415.8L373.1 418.5M377.9 415.8L385.1 418.4M389.9 415.8L397.2 418.3M401.9 415.8L409.3 418.2M414.0 415.8L421.3 418.1M305.8 432.7L312.4 436.6M317.8 432.7L324.5 436.6M329.8 432.7L336.6 436.5M341.8 432.7L348.7 436.3M353.9 432.7L360.8 436.1M365.9 432.7L372.8 436.0M377.9 432.7L384.9 435.9M389.9 432.7L397.0 435.8M401.9 432.7L409.1 435.6M414.0 432.7L421.1 435.6M305.8 449.7L312.3 453.8M317.8 449.7L324.3 453.8M329.8 449.7L336.4 453.7M341.8 449.7L348.5 453.7M353.9 449.7L360.5 453.6M365.9 449.7L372.6 453.5M377.9 449.7L384.6 453.5M389.9 449.7L396.6 453.6M401.9 449.7L408.6 453.6M414.0 449.7L420.7 453.5M305.8 466.7L312.1 471.1M317.8 466.7L324.1 471.1M329.8 466.7L336.1 471.1M341.8 466.7L348.2 471.0M353.9 466.7L360.3 470.9M365.9 466.7L372.3 471.0M377.9 466.7L384.2 471.1M389.9 466.7L396.0 471.4M401.9 466.7L408.0 471.4M414.0 466.7L420.1 471.3M305.8 483.6L311.9 488.4M317.8 483.6L323.8 488.5M329.8 483.6L335.8 488.5M341.8 483.6L348.0 488.3M353.9 483.6L360.1 488.2M365.9 483.6L372.1 488.2M377.9 483.6L384.0 488.4M389.9 483.6L395.8 488.6M401.9 483.6L407.8 488.6" stroke="#000" stroke-width="0.9" fill="none" opacity="0.55"/>
<path d="M183.4 55.1L180.9 57.7L179.8 55.2ZM195.1 54.4L192.8 57.2L191.5 54.8ZM206.9 54.1L204.7 56.9L203.3 54.5ZM219.0 54.2L216.7 57.0L215.4 54.6ZM231.3 54.9L228.9 57.5L227.8 55.1ZM243.3 54.8L240.9 57.5L239.8 55.0ZM255.1 54.4L252.9 57.1L251.6 54.7ZM267.3 54.6L264.9 57.3L263.7 54.9ZM279.5 55.0L277.0 57.6L275.9 55.2ZM519.7 54.7L517.4 57.3L516.2 54.9ZM531.6 54.5L529.3 57.2L528.1 54.8ZM543.6 54.4L541.3 57.1L540.1 54.7ZM555.6 54.4L553.4 57.1L552.1 54.7ZM567.9 54.8L565.5 57.5L564.3 55.0ZM580.1 55.4L577.6 57.9L576.6 55.4ZM592.2 55.4L589.6 57.9L588.6 55.4ZM604.5 56.2L601.7 58.5L600.9 55.9ZM183.8 73.2L181.0 75.5L180.2 72.9ZM195.7 72.8L193.0 75.2L192.1 72.6ZM207.6 72.5L205.0 75.0L204.0 72.5ZM219.7 72.7L217.0 75.1L216.1 72.5ZM231.8 72.9L229.1 75.3L228.2 72.7ZM243.7 72.8L241.1 75.2L240.2 72.6ZM255.7 72.7L253.1 75.1L252.2 72.6ZM267.8 72.7L265.1 75.1L264.2 72.6ZM279.8 72.9L277.2 75.2L276.3 72.7ZM291.9 72.9L289.2 75.2L288.3 72.7ZM303.7 72.4L301.1 74.8L300.1 72.3ZM315.6 72.2L313.1 74.7L312.1 72.2ZM327.3 71.5L325.0 74.2L323.8 71.8ZM339.3 71.3L337.0 74.1L335.7 71.7ZM363.1 71.0L360.9 73.8L359.6 71.5ZM375.1 71.0L373.0 73.8L371.6 71.5ZM496.0 72.3L493.4 74.8L492.4 72.3ZM507.8 71.9L505.4 74.5L504.2 72.0ZM519.7 71.6L517.3 74.3L516.1 71.8ZM531.6 71.4L529.3 74.1L528.1 71.7ZM543.6 71.4L541.3 74.1L540.1 71.7ZM555.6 71.4L553.4 74.1L552.1 71.7ZM567.8 71.7L565.4 74.3L564.3 71.9ZM580.2 72.5L577.6 75.0L576.6 72.4ZM592.6 73.5L589.7 75.7L589.0 73.1ZM604.7 74.1L601.8 76.1L601.2 73.5ZM208.2 91.9L205.1 93.6L204.7 91.0ZM220.2 91.8L217.1 93.6L216.8 91.0ZM232.2 91.6L229.2 93.4L228.7 90.8ZM244.1 91.1L241.2 93.1L240.6 90.5ZM256.1 90.8L253.2 92.9L252.5 90.2ZM268.1 90.8L265.2 92.9L264.6 90.3ZM280.2 91.0L277.2 93.0L276.6 90.4ZM292.2 91.1L289.3 93.1L288.7 90.5ZM303.7 89.3L301.1 91.8L300.1 89.3ZM315.7 89.3L313.1 91.8L312.1 89.3ZM327.6 89.1L325.1 91.7L324.1 89.2ZM531.4 88.0L529.2 90.8L527.9 88.5ZM543.4 88.0L541.2 90.8L539.9 88.5ZM555.6 88.3L553.3 91.0L552.0 88.6ZM567.9 88.7L565.5 91.4L564.3 88.9ZM208.3 110.1L205.0 111.5L205.0 108.8ZM220.3 110.1L217.0 111.5L217.0 108.8ZM232.3 110.0L229.1 111.4L229.0 108.7ZM244.3 109.7L241.1 111.2L241.0 108.5ZM256.3 109.4L253.2 111.0L252.9 108.4ZM268.3 109.3L265.2 110.9L264.9 108.2ZM280.4 109.2L277.2 110.9L276.9 108.2ZM292.4 109.2L289.2 110.9L289.0 108.2ZM304.3 108.2L301.3 110.2L300.8 107.5ZM496.4 107.6L493.6 109.7L492.9 107.1ZM508.1 106.4L505.5 108.9L504.5 106.4ZM519.6 105.3L517.3 108.0L516.0 105.6ZM531.4 105.0L529.2 107.8L527.9 105.4ZM208.3 128.2L204.9 129.3L205.1 126.6ZM220.3 128.2L216.9 129.3L217.1 126.6ZM232.3 128.0L228.9 129.1L229.1 126.4ZM244.3 127.8L241.0 129.0L241.1 126.3ZM256.4 127.6L253.0 128.9L253.1 126.2ZM268.4 127.5L265.1 128.8L265.1 126.1ZM280.4 127.2L277.1 128.6L277.1 125.9ZM292.4 126.9L289.2 128.4L289.1 125.7ZM364.2 124.5L361.4 126.7L360.7 124.1ZM376.2 124.4L373.4 126.6L372.6 124.0ZM388.0 123.8L385.3 126.2L384.5 123.6ZM399.7 123.0L397.2 125.5L396.2 123.1ZM411.6 122.8L409.2 125.4L408.1 122.9ZM423.9 123.3L421.3 125.8L420.3 123.3ZM435.9 123.3L433.3 125.8L432.3 123.3ZM448.0 123.4L445.4 125.9L444.4 123.3ZM460.4 124.9L457.5 126.9L456.9 124.3ZM472.6 125.7L469.6 127.6L469.2 124.9ZM484.7 125.8L481.6 127.6L481.2 124.9ZM496.7 125.7L493.6 127.5L493.2 124.8ZM508.7 125.5L505.6 127.4L505.2 124.7ZM520.7 125.7L517.6 127.5L517.2 124.8ZM532.7 125.8L529.7 127.6L529.3 124.9ZM208.1 146.1L204.7 146.9L205.1 144.2ZM220.2 146.1L216.7 146.8L217.1 144.2ZM232.2 145.7L228.8 146.6L229.2 143.9ZM244.3 145.4L240.9 146.4L241.2 143.7ZM256.3 145.1L252.9 146.2L253.2 143.5ZM268.4 145.0L265.0 146.1L265.2 143.4ZM304.1 141.5L301.3 143.6L300.6 141.0ZM316.2 141.7L313.3 143.8L312.7 141.2ZM328.3 142.4L325.3 144.3L324.9 141.6ZM340.3 142.2L337.3 144.2L336.8 141.5ZM352.1 141.1L349.3 143.4L348.5 140.8ZM364.0 141.0L361.3 143.3L360.5 140.7ZM376.2 141.6L373.4 143.7L372.7 141.1ZM388.4 142.0L385.4 144.0L384.9 141.4ZM400.3 141.6L397.4 143.8L396.8 141.1ZM412.3 141.5L409.4 143.6L408.7 141.0ZM424.4 141.7L421.5 143.8L420.8 141.2ZM436.5 142.0L433.5 144.0L432.9 141.4ZM448.6 142.6L445.5 144.4L445.1 141.8ZM460.6 142.8L457.5 144.6L457.2 141.9ZM472.6 142.8L469.6 144.6L469.2 141.9ZM484.7 143.0L481.6 144.7L481.3 142.0ZM496.7 143.3L493.6 144.9L493.3 142.2ZM508.8 143.3L505.6 145.0L505.4 142.3ZM520.8 143.3L517.6 145.0L517.4 142.3ZM532.8 143.1L529.6 144.8L529.4 142.1ZM208.1 163.4L204.6 164.1L205.1 161.4ZM220.1 163.4L216.6 164.1L217.1 161.4ZM232.2 163.1L228.7 163.9L229.2 161.2ZM244.3 162.7L240.8 163.6L241.2 160.9ZM256.3 162.7L252.8 163.6L253.2 160.9ZM268.3 162.7L264.9 163.6L265.2 160.9ZM280.4 162.1L277.0 163.2L277.2 160.5ZM292.4 161.3L289.1 162.7L289.2 160.0ZM304.5 161.2L301.2 162.6L301.2 159.9ZM316.5 161.5L313.1 162.8L313.2 160.1ZM328.5 161.4L325.2 162.7L325.2 160.0ZM340.5 161.2L337.2 162.6L337.2 159.9ZM352.5 161.2L349.2 162.6L349.2 159.9ZM364.6 161.0L361.3 162.4L361.2 159.7ZM376.6 160.9L373.3 162.3L373.2 159.6ZM388.6 161.1L385.3 162.5L385.3 159.8ZM400.6 161.3L397.3 162.6L397.3 159.9ZM412.6 161.4L409.3 162.7L409.4 160.0ZM424.7 161.1L421.4 162.5L421.3 159.8ZM436.7 160.7L433.4 162.2L433.3 159.5ZM448.7 160.9L445.4 162.3L445.4 159.6ZM460.7 161.1L457.4 162.5L457.4 159.8ZM472.7 161.0L469.5 162.4L469.4 159.7ZM484.8 161.0L481.5 162.4L481.4 159.7ZM496.8 161.4L493.5 162.7L493.5 160.0ZM207.9 181.0L204.4 181.4L205.1 178.8ZM220.0 180.9L216.4 181.4L217.1 178.8ZM232.1 180.6L228.5 181.2L229.2 178.6ZM244.2 180.2L240.7 180.9L241.2 178.2ZM256.3 179.8L252.8 180.6L253.2 177.9ZM268.3 179.5L264.9 180.4L265.2 177.7ZM280.4 179.3L276.9 180.3L277.2 177.6ZM292.4 179.3L289.0 180.3L289.2 177.6ZM304.4 178.8L301.1 180.0L301.2 177.3ZM316.5 178.8L313.1 179.9L313.2 177.2ZM328.5 179.0L325.1 180.1L325.3 177.4ZM340.5 179.0L337.1 180.1L337.3 177.4ZM352.5 178.9L349.1 180.1L349.3 177.4ZM364.5 178.9L361.2 180.0L361.3 177.3ZM376.5 179.0L373.2 180.1L373.4 177.4ZM388.6 179.1L385.2 180.2L385.4 177.5ZM400.6 179.1L397.2 180.2L397.4 177.5ZM436.7 178.9L433.3 180.0L433.5 177.3ZM448.6 179.5L445.2 180.4L445.5 177.8ZM460.6 179.7L457.2 180.6L457.5 177.9ZM472.7 179.5L469.2 180.5L469.6 177.8ZM484.7 178.9L481.4 180.0L481.5 177.3ZM207.8 198.5L204.2 198.7L205.1 196.2ZM219.8 198.4L216.3 198.7L217.1 196.1ZM231.9 198.2L228.4 198.5L229.1 195.9ZM244.1 197.7L240.5 198.2L241.2 195.6ZM256.2 197.3L252.7 197.9L253.2 195.3ZM268.3 196.9L264.8 197.7L265.2 195.1ZM280.3 196.9L276.8 197.7L277.2 195.0ZM292.3 197.0L288.8 197.8L289.3 195.1ZM304.3 197.0L300.8 197.8L301.3 195.1ZM316.3 196.9L312.9 197.7L313.3 195.0ZM328.4 196.8L324.9 197.6L325.3 195.0ZM340.4 196.8L336.9 197.7L337.3 195.0ZM352.4 196.8L348.9 197.7L349.4 195.0ZM364.5 196.7L361.0 197.5L361.4 194.9ZM376.5 196.4L373.1 197.4L373.4 194.7ZM388.5 196.6L385.1 197.5L385.4 194.8ZM400.5 196.6L397.1 197.5L397.4 194.9ZM412.5 196.6L409.1 197.5L409.5 194.8ZM207.7 215.8L204.1 215.9L205.0 213.4ZM219.7 215.8L216.1 215.9L217.0 213.4ZM231.8 215.6L228.2 215.8L229.1 213.2ZM243.9 215.2L240.4 215.5L241.1 212.9ZM256.0 214.8L252.5 215.3L253.2 212.6ZM268.1 214.5L264.6 215.1L265.2 212.5ZM280.2 214.4L276.7 215.0L277.2 212.4ZM292.2 214.4L288.7 215.0L289.3 212.4ZM304.2 214.4L300.7 215.0L301.3 212.3ZM316.2 214.3L312.7 215.0L313.3 212.3ZM328.3 214.2L324.8 214.9L325.3 212.2ZM340.3 214.2L336.8 214.9L337.3 212.2ZM352.3 214.2L348.8 214.9L349.4 212.2ZM376.5 213.7L373.0 214.6L373.4 211.9ZM388.5 213.7L385.0 214.6L385.4 211.9ZM400.5 213.9L397.0 214.7L397.4 212.0ZM412.5 214.0L409.0 214.7L409.5 212.1ZM207.5 233.1L204.0 233.1L205.0 230.6ZM219.6 233.1L216.0 233.1L217.0 230.6ZM231.7 232.9L228.1 233.0L229.0 230.4ZM243.8 232.5L240.2 232.7L241.1 230.2ZM255.9 232.2L252.4 232.5L253.2 229.9ZM268.0 232.0L264.5 232.4L265.2 229.8ZM280.1 231.9L276.5 232.3L277.2 229.7ZM292.1 231.9L288.5 232.3L289.2 229.7ZM304.1 231.9L300.6 232.3L301.3 229.7ZM207.4 250.3L203.9 250.2L204.9 247.7ZM219.5 250.2L215.9 250.2L217.0 247.7ZM231.6 250.1L228.0 250.1L229.0 247.6ZM243.7 249.8L240.1 249.9L241.1 247.4ZM255.8 249.5L252.3 249.7L253.1 247.1ZM267.9 249.3L264.3 249.6L265.2 247.0ZM279.9 249.3L276.4 249.6L277.2 247.0ZM291.9 249.4L288.4 249.6L289.2 247.1ZM303.9 249.4L300.4 249.6L301.2 247.1ZM316.0 249.3L312.4 249.6L313.2 247.0ZM207.4 267.4L203.8 267.3L204.9 264.8ZM219.4 267.4L215.8 267.3L216.9 264.8ZM231.5 267.2L227.9 267.1L229.0 264.7ZM243.6 266.9L240.1 267.0L241.0 264.5ZM255.7 266.7L252.2 266.8L253.1 264.3ZM267.8 266.6L264.2 266.8L265.1 264.2ZM279.8 266.7L276.2 266.8L277.1 264.3ZM291.7 266.8L288.2 266.9L289.1 264.4ZM303.8 266.9L300.2 266.9L301.2 264.4ZM315.8 266.7L312.3 266.8L313.2 264.3ZM327.9 266.6L324.3 266.8L325.2 264.3ZM207.5 284.2L203.9 284.1L204.9 281.6ZM219.5 284.1L215.9 284.1L217.0 281.6ZM231.5 284.1L228.0 284.1L229.0 281.6ZM243.6 284.1L240.0 284.1L241.0 281.6ZM255.6 284.1L252.0 284.1L253.0 281.6ZM267.6 284.0L264.1 284.0L265.1 281.5ZM279.7 283.8L276.2 283.9L277.1 281.4ZM291.8 283.7L288.2 283.8L289.2 281.3ZM303.8 283.6L300.3 283.8L301.2 281.2ZM315.9 283.5L312.3 283.7L313.2 281.2ZM327.9 283.5L324.4 283.7L325.2 281.1ZM340.0 283.4L336.4 283.6L337.3 281.1ZM352.1 283.1L348.5 283.4L349.3 280.8ZM364.2 282.7L360.7 283.2L361.4 280.5ZM376.3 282.4L372.8 283.0L373.4 280.4ZM207.5 301.1L203.9 301.1L205.0 298.6ZM219.5 301.1L215.9 301.1L217.0 298.6ZM231.5 301.2L227.9 301.2L229.0 298.7ZM243.4 301.4L239.8 301.3L241.0 298.8ZM255.4 301.5L251.8 301.3L253.0 298.9ZM267.4 301.5L263.8 301.3L265.0 298.9ZM279.5 301.3L276.0 301.2L277.0 298.7ZM291.7 300.9L288.1 301.0L289.1 298.5ZM303.8 300.8L300.2 300.9L301.2 298.3ZM315.8 300.6L312.3 300.8L313.2 298.2ZM327.9 300.4L324.4 300.6L325.2 298.0ZM340.1 300.0L336.5 300.4L337.3 297.8ZM352.2 299.7L348.6 300.2L349.3 297.6ZM364.2 299.6L360.7 300.1L361.4 297.5ZM376.3 299.6L372.7 300.1L373.4 297.5ZM388.3 299.4L384.8 300.0L385.4 297.4ZM400.4 299.2L396.9 299.8L397.4 297.2ZM207.3 318.5L203.7 318.3L204.9 315.9ZM219.3 318.4L215.8 318.3L216.9 315.8ZM231.4 318.3L227.8 318.2L228.9 315.8ZM243.4 318.3L239.9 318.2L241.0 315.7ZM255.4 318.3L251.9 318.2L253.0 315.7ZM267.5 318.3L263.9 318.2L265.0 315.7ZM279.6 318.1L276.0 318.0L277.1 315.5ZM291.7 317.9L288.1 318.0L289.1 315.4ZM303.7 318.0L300.1 318.0L301.1 315.5ZM315.7 318.0L312.1 318.0L313.1 315.5ZM327.8 317.7L324.3 317.8L325.2 315.3ZM340.1 317.0L336.5 317.4L337.3 314.8ZM352.2 316.7L348.6 317.2L349.3 314.6ZM364.2 316.7L360.7 317.2L361.4 314.6ZM376.2 316.6L372.7 317.1L373.4 314.5ZM388.4 316.1L384.9 316.7L385.4 314.1ZM207.2 335.6L203.7 335.4L204.8 333.0ZM219.2 335.6L215.7 335.4L216.9 332.9ZM231.3 335.5L227.8 335.3L228.9 332.9ZM243.4 335.3L239.9 335.2L241.0 332.7ZM255.5 335.1L252.0 335.0L253.0 332.5ZM267.6 334.9L264.0 335.0L265.1 332.5ZM279.7 334.9L276.1 334.9L277.1 332.4ZM291.7 334.8L288.1 334.9L289.1 332.4ZM303.7 334.8L300.2 334.9L301.1 332.4ZM315.8 334.8L312.2 334.8L313.2 332.3ZM327.9 334.5L324.3 334.7L325.2 332.2ZM340.0 334.2L336.5 334.5L337.3 331.9ZM352.1 333.9L348.6 334.3L349.3 331.7ZM364.2 333.8L360.6 334.2L361.3 331.6ZM376.2 333.7L372.7 334.1L373.4 331.5ZM388.3 333.4L384.8 333.9L385.4 331.3ZM400.4 333.0L396.9 333.7L397.4 331.1ZM315.7 351.9L312.1 351.9L313.1 349.4ZM327.8 351.8L324.2 351.8L325.2 349.3ZM340.0 351.3L336.4 351.5L337.3 349.0ZM352.1 350.9L348.6 351.3L349.3 348.7ZM364.1 350.8L360.6 351.2L361.3 348.6ZM376.2 350.8L372.6 351.2L373.4 348.6ZM388.2 350.6L384.7 351.1L385.4 348.5ZM400.4 350.1L396.9 350.7L397.4 348.1ZM412.5 349.8L409.0 350.5L409.5 347.9ZM424.5 349.7L421.0 350.5L421.5 347.8ZM315.6 369.0L312.1 369.0L313.1 366.5ZM327.7 368.9L324.2 368.9L325.2 366.4ZM339.9 368.6L336.3 368.7L337.2 366.2ZM352.0 368.3L348.4 368.5L349.3 365.9ZM364.0 368.1L360.5 368.4L361.3 365.8ZM376.1 368.1L372.5 368.4L373.3 365.8ZM388.2 367.9L384.6 368.3L385.4 365.7ZM400.3 367.6L396.7 368.0L397.4 365.4ZM412.4 367.3L408.8 367.8L409.5 365.2ZM424.4 367.2L420.9 367.8L421.5 365.1ZM436.4 367.2L432.9 367.8L433.5 365.2ZM315.5 386.4L311.9 386.2L313.1 383.7ZM327.5 386.3L324.0 386.1L325.1 383.7ZM339.7 385.9L336.2 385.9L337.2 383.4ZM351.9 385.5L348.3 385.6L349.3 383.1ZM364.0 385.3L360.4 385.5L361.3 383.0ZM376.0 385.3L372.4 385.5L373.3 383.0ZM388.0 385.2L384.5 385.5L385.3 382.9ZM400.2 384.8L396.6 385.2L397.4 382.6ZM412.3 384.4L408.8 384.9L409.4 382.3ZM424.4 384.2L420.9 384.8L421.5 382.2ZM315.3 403.7L311.8 403.4L313.0 401.0ZM327.4 403.6L323.8 403.3L325.0 400.9ZM339.6 403.2L336.0 403.1L337.1 400.6ZM351.8 402.6L348.3 402.7L349.2 400.2ZM363.9 402.5L360.4 402.6L361.3 400.1ZM375.9 402.5L372.4 402.6L373.3 400.1ZM388.0 402.4L384.4 402.5L385.3 400.0ZM400.2 401.9L396.6 402.2L397.4 399.7ZM412.4 401.3L408.8 401.8L409.5 399.2ZM424.5 400.7L421.0 401.4L421.5 398.8ZM315.2 420.8L311.7 420.4L312.9 418.1ZM327.3 420.8L323.7 420.4L325.0 418.0ZM339.4 420.5L335.8 420.3L337.0 417.9ZM351.6 420.1L348.1 420.0L349.2 417.5ZM363.8 419.8L360.2 419.8L361.2 417.3ZM375.9 419.6L372.3 419.7L373.3 417.2ZM387.9 419.5L384.4 419.6L385.3 417.1ZM400.0 419.2L396.5 419.4L397.4 416.9ZM412.1 419.1L408.6 419.3L409.4 416.8ZM424.1 419.1L420.6 419.3L421.4 416.8ZM315.0 438.1L311.5 437.6L312.9 435.3ZM327.1 438.1L323.6 437.6L324.9 435.2ZM339.2 437.9L335.6 437.5L336.9 435.1ZM351.3 437.7L347.8 437.4L349.0 435.0ZM363.5 437.5L359.9 437.2L361.1 434.8ZM375.6 437.3L372.0 437.1L373.2 434.7ZM387.6 437.1L384.1 437.0L385.2 434.6ZM399.8 437.0L396.2 436.9L397.3 434.4ZM411.9 436.8L408.3 436.8L409.3 434.3ZM423.9 436.7L420.3 436.8L421.3 434.3ZM314.9 455.4L311.3 454.8L312.8 452.5ZM326.9 455.4L323.4 454.8L324.8 452.5ZM338.9 455.3L335.4 454.7L336.8 452.4ZM351.0 455.2L347.5 454.7L348.9 452.3ZM363.1 455.1L359.6 454.6L360.9 452.2ZM375.2 455.0L371.6 454.5L373.0 452.2ZM387.2 455.0L383.6 454.6L385.0 452.2ZM399.2 455.1L395.7 454.6L397.0 452.2ZM411.2 455.1L407.7 454.6L409.0 452.2ZM423.3 454.9L419.8 454.5L421.1 452.1ZM314.5 472.8L311.1 472.0L312.6 469.8ZM326.6 472.8L323.1 472.0L324.6 469.8ZM338.6 472.8L335.1 472.0L336.7 469.8ZM350.7 472.7L347.2 471.9L348.7 469.7ZM362.8 472.6L359.3 471.9L360.8 469.6ZM374.8 472.6L371.3 471.9L372.8 469.7ZM386.6 472.9L383.2 472.1L384.7 469.9ZM398.4 473.2L395.0 472.2L396.6 470.1ZM410.4 473.3L406.9 472.3L408.6 470.2ZM422.5 473.1L419.1 472.2L420.7 470.0ZM314.2 490.2L310.8 489.3L312.4 487.1ZM326.1 490.4L322.7 489.4L324.4 487.3ZM338.2 490.3L334.8 489.3L336.4 487.2ZM350.4 490.1L346.9 489.2L348.5 487.1ZM362.5 489.9L359.1 489.1L360.6 486.9ZM374.5 490.0L371.1 489.1L372.6 486.9ZM386.3 490.2L382.9 489.3L384.6 487.1ZM398.2 490.5L394.8 489.4L396.5 487.3ZM410.1 490.5L406.7 489.4L408.5 487.4Z" fill="#000" opacity="0.9"/>
</g>
<g clip-path="url(#mc)">
<polygon fill="#ffffff" stroke="#000" stroke-width="1.3" stroke-linejoin="miter" stroke-miterlimit="6" points="101.1,48.0 101.1,49.9 99.8,50.9 99.1,52.9 96.9,52.2 95.6,53.8 93.6,54.6 92.8,56.1 91.3,56.9 92.2,59.2 94.0,59.2 95.5,60.2 96.9,59.4 98.3,58.8 99.6,60.2 100.2,62.0 101.5,62.8 103.0,63.4 104.9,63.0 106.7,62.5 107.6,60.3 109.6,60.6 111.4,60.2 112.8,59.2 114.3,58.3 116.0,57.8 117.9,57.5 119.3,55.0 121.7,56.4 123.4,55.9 125.2,55.8 126.8,55.0 125.0,55.2 123.8,56.6 121.4,55.3 120.3,57.2 118.9,58.3 117.2,59.6 115.4,60.9 113.3,61.6 111.3,62.2 109.5,63.4 108.6,66.2 105.8,65.3 104.8,66.7 103.9,68.1 102.2,69.5 100.2,70.5 98.3,71.9 100.2,71.5 102.0,70.9 103.6,70.5 105.2,70.8 106.7,70.0 108.9,71.6 110.5,69.9 112.3,69.0 114.1,68.2 116.5,69.3 117.9,67.2 119.8,66.9 121.6,65.9 123.6,65.8 125.5,65.8 127.3,65.3 125.7,63.7 123.6,63.0 124.4,64.7 124.5,66.5 123.7,67.5 122.6,68.1 120.8,69.4 118.9,70.5 116.9,71.4 115.1,72.8 113.6,73.6 112.3,74.7 113.8,76.1 112.3,77.5 114.0,76.5 116.0,76.0 118.0,74.9 119.8,73.7 121.5,73.9 122.6,75.1 124.1,75.9 125.4,77.0 124.7,78.6 125.0,80.3 126.4,78.9 129.0,78.6 129.2,76.0 130.6,75.7 132.0,75.6 133.4,75.9 134.8,76.5 137.0,75.8 138.5,74.2 140.2,73.1 142.3,72.8 144.3,72.8 146.0,73.7 147.4,72.6 148.8,71.4 150.3,69.1 152.6,70.5 153.7,69.4 155.3,69.0 156.6,68.4 158.0,68.2 159.1,66.9 160.7,66.3 160.0,64.5 161.3,65.5 163.0,65.3 164.1,62.9 166.0,64.7 167.4,64.1 168.5,63.0 170.3,62.0 169.3,61.2 168.0,60.8 166.0,60.0 164.3,59.0 163.0,57.5 161.7,56.7 160.7,55.6 162.7,56.8 165.0,57.0 167.1,57.6 169.0,58.6 171.2,58.0 173.5,58.3 174.7,59.0 176.0,59.6 177.4,59.3 178.9,59.4 179.7,58.5 180.5,57.5 182.0,56.2 184.0,54.8 185.3,53.5 184.0,52.0 183.0,50.8 184.9,51.7 187.0,52.2 188.8,52.6 190.6,52.4 191.7,51.6 193.0,51.4 195.0,50.8 197.0,50.0 198.4,48.9 200.0,48.0 200.0,40.0 100.0,40.0"/>
<polygon fill="#ffffff" stroke="#000" stroke-width="1.3" stroke-linejoin="miter" stroke-miterlimit="6" points="284.6,48.0 283.6,50.0 282.0,51.5 280.2,52.6 278.4,53.9 277.0,55.5 277.1,57.3 276.5,59.0 277.8,60.6 278.5,62.5 279.8,64.0 280.6,62.1 282.5,63.0 284.3,64.2 285.5,66.0 287.1,65.2 288.5,64.2 289.8,65.0 291.3,65.0 292.0,66.8 293.0,68.5 295.0,68.9 295.6,66.9 297.0,65.5 298.6,65.2 299.8,64.0 302.0,63.5 304.0,62.5 306.1,62.3 308.2,62.6 310.3,63.0 310.6,65.0 312.0,66.5 313.2,67.1 314.2,67.9 316.0,68.9 318.0,69.5 319.9,69.2 321.8,69.8 323.8,69.7 325.5,68.6 327.6,68.8 329.4,69.8 330.2,72.0 332.0,73.5 333.2,74.7 335.5,74.9 335.2,77.4 336.8,78.9 339.0,79.5 340.7,80.8 342.8,81.3 344.7,81.1 346.5,81.5 348.4,80.7 350.4,80.3 351.3,79.0 352.0,77.5 353.0,76.0 354.2,74.6 356.1,75.0 358.0,74.5 359.9,74.0 361.9,73.6 363.8,73.8 365.5,73.0 367.7,72.8 369.5,71.7 371.3,70.4 373.0,69.0 373.9,67.3 374.7,65.3 377.0,65.0 378.3,63.8 379.7,62.7 381.0,61.5 382.3,60.9 383.6,60.3 382.3,61.7 381.5,63.5 380.3,64.6 379.4,66.0 378.0,67.0 376.8,68.2 375.4,69.1 374.5,70.5 373.0,72.1 371.4,73.6 370.2,74.8 368.8,75.9 367.7,77.2 366.5,78.5 364.6,79.7 363.1,81.3 361.9,83.2 361.5,85.2 360.5,87.0 359.3,88.7 359.0,90.8 357.0,91.3 355.1,92.6 353.0,91.0 350.9,91.3 348.7,91.3 346.6,90.8 344.7,90.1 342.8,90.7 340.9,90.8 339.0,90.2 337.1,89.8 335.2,89.5 333.2,89.7 331.3,89.8 329.7,89.6 328.1,90.0 326.5,90.0 325.0,90.4 323.4,90.7 321.8,90.8 320.7,92.4 319.5,94.0 318.9,95.8 318.0,97.5 316.6,98.6 315.0,99.3 313.8,100.2 312.3,100.3 310.8,100.1 309.5,99.3 308.0,99.8 306.5,99.4 305.1,100.7 304.5,102.5 303.3,104.1 302.7,106.0 301.7,107.5 301.1,109.0 301.0,110.8 300.3,112.4 299.6,114.0 298.9,115.6 297.8,117.4 296.6,119.1 295.0,120.5 295.5,123.4 292.9,123.9 291.3,125.2 290.4,127.1 288.8,128.4 287.5,130.0 286.2,131.5 285.1,133.3 283.6,134.7 282.4,135.7 281.5,137.1 280.0,137.8 279.0,139.1 277.5,139.7 276.0,140.4 274.2,140.8 272.7,141.9 271.0,142.6 269.1,142.0 268.2,144.2 266.5,144.2 265.0,144.2 264.0,145.3 262.6,147.0 262.4,149.3 263.6,151.0 265.2,150.2 267.0,150.0 268.7,149.2 270.3,148.0 272.6,148.2 275.0,148.0 276.5,148.8 278.2,148.4 279.8,149.0 280.5,150.2 280.5,151.5 280.7,152.9 281.7,153.8 282.2,152.2 283.5,151.0 284.5,149.7 284.5,148.0 285.1,146.6 286.5,146.0 288.5,144.8 290.0,143.0 291.3,141.3 293.2,140.4 294.7,139.5 296.6,139.4 298.0,138.2 299.1,136.4 301.1,137.1 302.7,136.6 304.4,136.7 305.9,135.9 307.5,135.4 309.2,135.7 310.9,136.2 312.3,134.7 313.7,134.7 315.0,135.3 316.6,135.7 318.0,136.6 320.1,136.5 322.0,137.3 323.9,137.5 325.6,138.5 327.1,138.7 328.5,139.2 330.7,138.0 331.3,140.4 332.1,141.5 333.2,142.3 334.0,141.3 335.0,140.5 336.4,139.9 337.0,138.5 338.2,137.3 339.0,135.8 339.5,134.0 340.9,132.8 342.0,131.1 342.3,129.0 342.8,127.1 342.8,125.2 342.1,123.5 342.3,121.7 342.0,120.0 341.8,117.7 340.9,115.6 341.9,117.6 343.0,119.5 343.7,121.4 344.7,123.2 344.9,120.6 347.5,121.0 349.2,120.7 350.4,119.4 351.6,116.9 354.2,118.1 356.0,117.2 357.8,116.1 360.0,116.4 361.9,115.6 363.9,115.9 366.0,116.2 367.9,116.4 369.5,117.5 370.7,119.6 373.0,119.0 375.0,120.0 377.1,120.4 378.5,120.7 380.0,120.6 378.3,123.1 380.7,125.0 381.7,124.0 382.5,122.8 384.3,121.6 386.5,121.3 388.3,121.3 390.0,121.8 392.0,121.8 394.0,122.3 396.6,122.7 395.5,120.3 397.0,118.5 398.3,117.5 400.0,117.4 401.8,117.0 403.6,116.6 405.8,116.2 408.0,116.3 409.7,116.4 411.3,115.9 413.0,115.6 413.3,113.4 414.5,111.5 417.4,110.7 416.0,108.0 417.3,108.9 418.5,110.0 420.5,109.8 420.8,111.8 422.2,111.3 423.5,110.8 424.9,109.9 426.5,109.9 428.0,110.1 429.5,110.2 430.8,110.7 432.3,110.8 434.2,111.1 436.0,110.5 438.3,112.2 439.9,109.9 440.8,112.0 441.8,113.7 443.1,113.0 444.5,112.6 446.0,112.1 447.5,111.8 449.7,111.0 452.0,111.2 453.6,110.9 455.3,110.8 457.0,110.8 458.9,112.3 460.8,110.3 462.7,110.8 464.3,113.2 466.5,111.9 468.5,111.8 470.3,111.7 471.8,112.9 473.5,113.2 475.6,114.5 478.0,114.7 479.4,113.5 481.0,112.6 482.6,112.0 483.8,110.8 485.1,109.6 486.9,109.4 488.5,108.8 490.1,108.3 491.5,107.1 493.3,107.0 495.1,106.4 497.0,106.0 498.4,105.3 500.0,105.5 501.5,104.5 503.0,103.5 504.3,102.8 505.6,102.0 506.6,100.9 507.8,100.0 508.5,98.9 509.6,98.3 512.0,98.8 513.5,97.7 514.8,96.4 516.0,94.7 517.6,93.5 518.7,91.8 519.5,90.0 521.9,89.2 521.0,86.8 521.5,85.1 522.2,83.5 522.9,82.1 523.0,80.6 521.0,80.0 519.0,80.0 517.0,80.3 515.0,80.7 513.1,81.4 511.0,81.4 509.2,81.9 507.3,81.6 505.5,82.2 503.7,83.0 501.8,82.7 500.0,82.8 497.9,82.5 496.0,81.5 494.1,80.5 492.0,80.0 490.0,79.9 488.0,80.0 486.0,79.8 484.0,80.0 482.1,79.0 480.0,78.7 477.8,78.5 476.0,77.4 477.6,76.8 479.3,76.4 481.0,76.0 483.0,76.0 484.8,74.8 486.8,74.8 488.6,74.9 490.3,75.0 492.0,74.2 493.8,73.4 495.7,74.2 497.5,73.4 496.5,72.0 495.5,70.5 494.8,69.0 493.5,68.0 495.5,66.7 497.5,65.4 499.4,64.7 501.5,64.8 503.5,63.9 505.6,64.0 504.2,62.0 503.0,60.0 504.6,59.9 506.0,59.3 507.6,57.8 509.6,58.7 508.8,57.5 508.8,56.0 507.9,54.9 508.0,53.4 509.5,53.3 510.5,52.2 512.1,51.7 513.6,51.2 515.0,50.6 516.0,49.5 518.0,47.0 518.0,40.0 284.0,40.0"/>
<polygon fill="#ffffff" stroke="#000" stroke-width="1.3" stroke-linejoin="miter" stroke-miterlimit="6" points="416.5,118.5 419.0,116.2 423.0,116.0 426.5,117.2 427.5,119.5 424.5,122.0 421.5,122.3 419.0,121.2"/>
<polygon fill="#ffffff" stroke="#000" stroke-width="1.3" stroke-linejoin="miter" stroke-miterlimit="6" points="613.0,70.5 611.9,71.7 610.5,72.5 609.1,72.3 608.0,71.5 605.5,70.0 605.0,72.8 603.4,72.1 602.0,71.0 599.9,71.4 598.0,72.5 597.2,74.0 596.5,75.5 595.5,76.9 593.8,77.4 593.3,79.8 590.8,78.9 589.6,80.2 588.0,80.8 586.1,81.4 585.0,83.4 583.0,84.0 581.3,85.0 579.7,86.2 577.6,86.6 576.0,87.8 574.6,88.9 573.0,89.6 571.4,90.5 569.7,91.0 567.8,91.4 566.0,91.9 564.6,93.4 562.8,93.9 561.0,94.5 559.0,94.8 557.4,96.1 555.3,96.2 553.7,97.5 551.7,96.1 550.2,97.8 548.7,99.9 546.8,99.0 545.0,98.9 542.5,97.4 541.1,99.5 539.4,100.6 538.3,102.7 536.0,101.1 534.5,102.2 532.2,102.6 530.3,104.0 528.8,105.4 527.0,106.5 525.6,107.2 524.7,108.5 524.9,110.8 524.0,113.0 524.0,115.3 523.6,117.6 524.1,119.4 522.4,121.3 524.0,123.0 524.1,125.0 524.6,126.8 524.7,128.8 526.9,130.4 524.4,132.3 525.0,134.0 526.5,135.6 527.5,137.5 526.5,138.7 525.8,140.1 524.7,141.4 524.0,143.0 523.5,145.3 521.3,145.8 520.1,147.4 518.1,148.2 517.0,150.0 515.5,151.3 513.9,152.5 512.3,153.6 510.2,153.9 508.3,154.9 506.5,156.0 504.5,156.4 502.8,157.3 501.0,158.2 499.1,159.2 497.6,161.3 495.0,160.5 493.4,161.6 491.4,161.8 489.7,162.7 487.8,163.8 485.9,165.0 484.0,166.0 482.4,167.6 480.5,168.6 478.5,169.4 477.0,170.4 476.8,172.4 475.5,173.5 474.2,175.4 472.8,177.3 474.5,177.8 476.0,178.8 477.7,179.4 479.4,179.6 481.2,179.3 483.0,179.5 484.7,180.0 486.4,180.3 484.3,180.8 482.2,180.2 480.1,181.3 478.0,181.0 476.1,181.2 474.3,180.6 472.4,182.5 470.6,180.6 469.2,181.9 467.1,182.8 467.2,185.2 465.9,186.8 464.0,187.5 462.1,187.7 460.4,188.6 458.6,188.9 456.9,188.5 455.3,187.6 453.5,187.7 451.7,188.0 450.2,186.8 448.4,187.3 446.9,186.4 445.0,186.0 443.1,186.2 441.4,185.8 439.9,184.4 438.0,184.5 436.2,183.4 434.1,183.2 432.2,182.3 429.9,181.6 429.5,184.0 428.5,185.2 427.0,185.6 426.1,183.8 425.5,181.8 424.5,180.0 423.6,178.3 423.5,176.4 423.1,174.5 422.2,172.3 421.8,170.0 420.1,169.7 418.5,169.0 416.9,169.0 415.3,168.7 413.5,168.7 412.0,169.5 410.5,170.2 408.8,170.6 407.0,169.6 404.7,169.8 403.0,168.5 401.4,168.0 399.9,167.4 398.4,166.7 398.9,168.6 399.3,170.5 400.4,172.3 400.4,174.5 400.9,176.6 401.7,178.5 402.8,180.2 403.0,182.3 404.1,183.8 405.0,185.5 406.6,186.9 407.5,188.8 408.8,190.1 410.4,191.1 411.4,192.7 410.2,193.3 409.5,194.5 410.2,196.1 410.1,197.9 410.3,199.7 411.5,201.0 410.9,203.1 412.7,204.4 412.1,206.2 412.0,208.0 411.2,209.4 411.4,211.0 411.3,212.8 412.0,214.5 412.2,216.0 412.7,217.5 414.4,218.2 416.0,219.0 417.8,219.0 419.2,220.0 418.1,221.1 416.5,221.5 415.4,222.5 414.0,222.7 412.2,222.3 410.4,222.1 408.5,222.5 406.9,222.4 405.2,222.8 403.6,222.7 401.8,223.2 400.0,223.5 398.5,223.4 397.1,224.0 394.8,223.7 392.5,223.0 390.2,223.0 388.0,222.7 386.0,222.3 384.0,222.0 382.0,222.3 380.2,221.4 378.8,222.3 377.3,223.0 376.0,224.0 374.5,224.9 372.5,225.1 372.5,227.5 370.6,228.9 368.9,227.2 368.0,225.0 365.8,223.7 365.9,221.2 364.7,219.3 363.0,217.8 363.1,214.9 360.2,214.5 357.4,214.6 358.5,212.0 357.6,210.7 356.3,209.8 354.5,210.7 352.5,210.8 353.0,211.0 351.3,211.8 349.4,212.2 348.0,213.5 346.1,213.5 344.5,214.6 342.5,214.1 340.8,214.7 339.2,216.3 338.4,218.4 336.8,217.8 335.1,218.0 333.5,217.8 331.9,219.0 330.0,219.5 328.6,220.8 328.7,222.2 328.8,223.5 327.4,222.3 327.0,220.5 325.2,219.8 323.8,218.4 321.8,218.8 320.0,219.6 318.1,220.6 316.1,221.2 314.0,221.4 312.3,221.4 310.6,221.4 309.0,222.0 307.4,222.3 306.0,223.3 304.3,223.2 302.4,224.0 300.7,225.0 298.9,226.0 297.6,227.5 296.5,228.8 296.4,230.5 297.4,232.0 298.2,233.6 297.7,235.1 297.0,236.6 298.2,237.8 299.8,239.7 302.0,238.5 303.6,237.3 304.3,235.4 306.0,236.4 308.0,236.5 309.7,235.8 311.0,234.3 312.8,233.6 311.8,235.0 311.0,236.5 312.8,237.8 314.1,234.3 316.0,236.0 317.5,237.0 318.6,238.4 320.0,239.6 318.0,240.0 316.0,240.2 314.0,240.2 312.3,242.2 310.6,242.3 309.0,240.0 308.0,242.0 306.0,241.5 304.2,239.8 302.0,241.5 301.3,243.2 300.7,245.0 302.3,246.0 304.0,247.0 305.2,244.4 308.0,245.0 309.6,246.2 311.3,247.1 312.9,248.3 314.0,250.0 312.3,249.6 310.7,250.7 309.0,250.5 307.4,250.9 305.8,251.0 304.3,251.8 302.5,251.9 300.6,252.1 298.8,251.1 297.0,251.3 295.2,252.0 293.3,251.3 291.5,251.4 289.7,251.8 291.5,251.9 292.7,254.8 295.0,253.0 297.0,253.7 298.8,255.3 301.0,253.9 303.0,253.6 304.8,254.6 307.2,254.9 308.0,257.3 308.4,259.1 309.9,260.3 310.4,262.0 310.5,263.8 311.6,265.2 312.7,263.5 314.0,262.0 315.2,260.7 316.5,259.7 316.8,261.3 318.0,262.5 320.0,263.4 322.1,263.3 324.0,262.4 326.0,262.0 328.6,261.4 329.5,263.8 331.0,265.0 332.6,263.5 334.3,264.2 336.0,264.6 337.4,265.9 339.8,265.0 340.8,267.0 343.3,265.6 344.6,267.7 346.3,268.6 348.0,269.4 349.8,269.4 351.2,268.1 353.0,268.2 353.9,270.2 355.5,271.5 356.2,273.1 358.2,274.6 356.3,276.6 357.7,276.5 359.0,276.0 360.4,275.3 362.0,275.6 364.0,275.6 366.0,275.0 367.8,274.6 369.7,274.7 371.5,275.8 372.5,277.6 374.1,278.8 375.4,280.4 376.9,280.4 378.3,280.8 379.6,281.6 381.1,281.3 380.1,283.0 380.0,285.0 380.2,287.1 379.2,289.0 380.7,290.4 382.0,292.0 383.6,293.2 385.0,294.7 386.5,294.2 388.0,293.7 389.5,293.7 390.7,292.8 392.7,292.9 394.5,292.2 396.3,291.4 398.3,291.8 399.5,292.6 401.0,292.8 399.5,294.1 397.5,294.3 396.0,295.5 394.5,296.6 393.4,297.4 392.0,297.5 391.4,298.6 390.5,299.5 391.8,301.2 392.9,303.0 393.8,305.0 392.7,306.4 392.0,308.0 391.4,309.8 390.0,311.0 389.4,312.8 388.0,314.0 386.8,315.6 386.0,317.5 387.4,318.5 389.1,319.1 390.5,320.0 392.8,319.4 393.6,321.5 395.0,322.5 396.2,324.4 397.5,326.3 398.3,328.5 400.0,330.0 401.2,331.4 402.9,332.0 404.4,332.8 405.0,335.3 407.3,335.1 409.0,335.8 410.6,336.7 412.2,337.4 413.9,338.0 415.3,339.0 417.4,339.3 419.4,340.3 421.6,340.6 423.7,340.3 425.7,341.0 427.8,340.6 426.8,342.0 426.0,343.6 425.5,345.3 424.3,346.5 422.6,346.9 421.6,348.4 422.9,349.7 424.9,349.6 426.3,350.8 427.8,351.5 429.2,352.5 430.2,353.9 431.6,355.7 432.5,357.8 431.0,358.5 429.4,358.6 427.8,358.6 425.4,360.1 427.0,362.5 426.8,364.1 426.6,365.6 426.3,367.2 425.0,368.7 423.9,370.3 424.0,371.9 424.7,373.4 426.7,374.1 428.6,375.0 429.8,376.4 431.5,377.1 432.4,378.9 434.0,379.7 435.0,381.4 436.2,383.0 437.6,384.4 438.8,386.0 439.4,388.1 440.3,390.1 441.0,392.2 441.4,394.2 442.5,396.0 442.9,398.0 443.4,400.0 444.6,401.8 445.1,403.9 446.6,405.5 447.8,406.6 449.4,407.3 451.5,407.3 452.0,409.4 450.4,408.5 448.5,408.2 446.8,407.5 445.0,407.0 444.2,405.1 443.1,403.3 441.9,401.6 441.3,399.6 441.2,397.5 440.3,395.6 439.5,393.8 439.0,392.0 438.5,390.4 436.7,389.3 436.4,387.5 436.9,384.5 433.9,384.3 432.5,382.8 431.0,381.5 429.2,380.5 427.8,379.0 427.0,377.7 425.5,377.3 424.9,379.0 425.5,380.6 427.3,382.3 425.5,384.0 425.3,386.0 424.6,388.0 425.0,390.0 424.8,392.0 424.6,394.0 425.0,396.0 425.2,398.2 425.4,400.3 425.0,402.5 425.0,404.7 424.9,406.9 424.5,409.0 424.6,411.0 422.5,412.9 424.0,415.0 423.8,416.7 424.0,418.3 424.0,420.0 425.0,421.9 425.0,424.0 425.0,426.1 422.1,427.6 424.3,430.1 423.5,432.0 424.7,434.2 423.5,436.1 422.6,438.0 422.5,440.0 421.9,441.8 422.2,443.8 422.2,445.7 421.7,447.5 421.5,449.4 421.1,451.2 421.7,453.2 421.0,455.0 420.7,456.9 420.7,458.8 418.3,460.4 420.0,462.5 420.2,464.4 419.6,466.3 419.3,468.1 419.0,470.0 418.4,471.8 417.4,473.6 417.0,475.5 416.7,477.2 415.4,478.4 415.0,480.0 413.9,481.9 412.5,483.5 411.3,484.8 410.0,486.0 408.7,487.0 407.0,487.4 406.0,488.8 404.5,490.2 402.5,491.0 401.4,493.8 398.5,493.0 396.5,493.3 395.0,494.5 393.6,494.3 392.5,495.2 391.3,495.4 390.0,495.5 387.9,495.8 386.0,495.0 384.3,494.4 382.5,494.0 380.7,492.7 378.5,492.2 376.7,491.1 375.0,490.0 373.1,488.7 371.0,488.0 369.2,487.1 367.5,486.0 366.2,487.2 365.0,488.5 363.9,489.9 362.5,491.0 361.3,492.0 360.0,492.8 358.9,493.6 357.5,494.0 356.6,492.6 355.0,492.2 354.0,490.8 352.5,490.0 351.2,489.9 350.0,489.3 348.8,489.0 347.5,489.0 345.7,490.2 344.0,491.0 344.5,488.5 342.0,488.0 340.6,486.8 340.0,485.0 338.0,485.7 336.0,485.3 334.2,485.2 332.5,486.0 331.1,486.6 330.0,487.6 328.5,487.9 327.5,489.0 326.3,488.2 325.0,487.6 323.9,486.6 322.5,486.0 320.4,486.6 318.5,487.6 316.7,488.1 315.0,489.0 313.0,489.0 311.0,489.6 309.5,492.1 307.5,490.0 307.0,489.8 305.3,489.5 303.5,489.2 301.8,489.4 300.0,489.6 298.2,489.5 296.5,489.2 294.8,488.7 292.8,489.0 291.0,488.6 289.4,487.4 287.7,486.9 285.8,487.0 283.9,487.1 282.2,486.0 280.5,485.1 278.6,485.4 276.8,484.7 275.0,484.4 272.9,485.1 271.5,483.3 269.8,482.6 267.8,483.0 266.1,482.4 264.4,481.7 262.7,480.5 261.0,479.2 259.6,478.0 257.7,477.7 255.8,478.0 254.0,478.8 252.7,480.0 251.0,480.4 249.3,480.7 247.7,480.5 246.0,480.6 244.0,480.5 242.4,482.5 240.3,481.7 238.2,481.3 236.0,481.7 234.0,481.0 232.2,480.9 230.5,480.9 228.8,482.1 227.0,481.7 225.2,481.8 223.5,481.9 221.7,482.0 220.0,482.6 217.9,482.4 215.7,482.6 213.6,482.5 211.8,482.4 210.0,483.0 208.7,481.8 208.2,479.3 205.6,480.4 202.8,480.6 202.4,478.0 201.0,476.5 199.5,474.7 197.5,473.7 195.8,473.0 194.0,472.8 192.6,471.8 190.9,471.6 188.8,470.9 188.0,473.0 185.9,473.1 184.0,472.4 182.3,473.2 181.0,474.6 179.4,475.0 177.6,474.4 176.0,475.0 175.1,476.5 173.4,477.1 172.5,478.5 170.8,479.9 169.5,481.7 170.0,483.4 170.5,485.0 169.3,486.7 168.0,488.4 166.4,488.6 165.0,489.5 163.0,490.0 161.9,491.9 160.0,492.4 158.2,492.3 156.4,491.0 154.8,493.3 153.0,493.0 150.8,493.4 148.8,494.2 146.7,495.0 145.0,495.6 143.9,497.0 142.6,498.3 141.0,499.0 139.5,500.3 137.7,501.0 136.0,501.8 135.4,503.2 134.5,504.5 132.1,504.6 132.0,507.0 132.5,508.2 132.0,509.5 132.0,514.0 578.0,514.0 578.0,509.5 578.8,507.6 579.0,505.5 580.8,504.3 582.5,503.0 583.7,500.5 586.5,500.5 588.1,499.6 589.0,498.0 590.3,496.8 591.5,495.5 593.6,495.5 595.5,494.5 597.1,493.3 599.0,493.0 600.3,491.8 601.5,490.5 602.4,488.9 604.0,488.0 605.4,487.0 606.1,484.7 608.5,485.5 610.2,485.1 611.8,484.3 613.0,483.0 620.0,483.0 620.0,70.5"/>
<polygon fill="#ffffff" stroke="#000" stroke-width="1.3" stroke-linejoin="miter" stroke-miterlimit="6" points="603.0,60.5 605.0,58.0 607.0,57.0 610.0,57.8 613.0,56.0 616.0,56.0 616.0,66.0 613.0,66.0 610.5,64.5 608.0,67.0 606.0,65.0 604.0,64.5"/>
<polygon fill="#ffffff" stroke="#000" stroke-width="1.3" stroke-linejoin="miter" stroke-miterlimit="6" points="372.0,179.0 374.0,177.0 377.0,177.5 378.0,180.0 376.0,182.0 373.0,181.5"/>
<polygon fill="#ffffff" stroke="#000" stroke-width="1.3" stroke-linejoin="miter" stroke-miterlimit="6" points="387.5,191.5 390.0,190.0 394.0,190.2 395.7,192.0 394.5,194.5 390.0,195.0 388.0,194.0"/>
<polygon fill="#ffffff" stroke="#000" stroke-width="1.3" stroke-linejoin="miter" stroke-miterlimit="6" points="350.0,287.0 352.0,286.0 355.0,287.5 356.0,289.5 353.0,290.0 351.0,289.0"/>
<polygon fill="#ffffff" stroke="#000" stroke-width="1.3" stroke-linejoin="miter" stroke-miterlimit="6" points="418.4,355.0 421.0,353.0 424.0,354.5 426.3,358.0 425.0,361.0 421.5,360.0 419.0,357.5"/>
<polyline fill="none" stroke="#000" stroke-width="1" points="427.0,396.0 429.5,398.0 430.0,401.5 428.5,403.0 427.0,400.0 427.0,396.0"/>
<polyline fill="none" stroke="#000" stroke-width="1" points="427.0,406.5 428.6,407.5 428.3,410.0 427.0,409.0 427.0,406.5"/>
<polyline fill="none" stroke="#000" stroke-width="1" points="426.0,421.5 428.5,420.5 431.0,422.0 431.0,425.5 428.0,426.0 426.0,424.5 426.0,421.5"/>
<polyline fill="none" stroke="#000" stroke-width="1" points="425.5,431.5 429.5,433.5 425.5,435.5 425.5,431.5"/>
<polyline fill="none" stroke="#000" stroke-width="1" points="424.5,438.5 428.5,440.5 424.5,443.0 424.5,438.5"/>
<polyline fill="none" stroke="#000" stroke-width="1" points="321.0,508.0 323.0,506.5 325.0,507.5 327.0,506.5 328.0,508.0"/>
<polyline fill="none" stroke="#000" stroke-width="1" points="220.6,491.0 220.0,504.5"/>
<polyline fill="none" stroke="#000" stroke-width="1" points="235.3,494.3 235.7,496.0"/>
<polyline fill="none" stroke="#000" stroke-width="1" points="180.0,490.5 183.0,489.5 185.5,488.4"/>
<polyline fill="none" stroke="#000" stroke-width="1" points="167.5,481.0 171.0,484.0 168.5,487.0 172.0,489.0"/>
</g>
<g stroke="#ccccff" stroke-opacity="0.85" stroke-width="1" stroke-dasharray="5 5" fill="none" shape-rendering="crispEdges">
<line x1="107.5" y1="50" x2="107.5" y2="510"/>
<line x1="179.5" y1="50" x2="179.5" y2="510"/>
<line x1="251.5" y1="50" x2="251.5" y2="510"/>
<line x1="323.5" y1="50" x2="323.5" y2="510"/>
<line x1="395.5" y1="50" x2="395.5" y2="510"/>
<line x1="467.5" y1="50" x2="467.5" y2="510"/>
<line x1="539.5" y1="50" x2="539.5" y2="510"/>
<line x1="611.5" y1="50" x2="611.5" y2="510"/>
<line x1="71" y1="50.5" x2="613" y2="50.5"/>
<line x1="71" y1="152.5" x2="613" y2="152.5"/>
<line x1="71" y1="254.5" x2="613" y2="254.5"/>
<line x1="71" y1="356.5" x2="613" y2="356.5"/>
<line x1="71" y1="457.5" x2="613" y2="457.5"/>
</g>
<g stroke="#000" stroke-width="1" fill="none" shape-rendering="crispEdges">
<line x1="71" y1="47.5" x2="613" y2="47.5"/>
<line x1="71" y1="512.5" x2="613" y2="512.5"/>
<line x1="68.5" y1="50" x2="68.5" y2="510"/>
<line x1="615.5" y1="50" x2="615.5" y2="510"/>
<line x1="107.5" y1="44" x2="107.5" y2="48"/>
<line x1="107.5" y1="512" x2="107.5" y2="516"/>
<line x1="179.5" y1="44" x2="179.5" y2="48"/>
<line x1="179.5" y1="512" x2="179.5" y2="516"/>
<line x1="251.5" y1="44" x2="251.5" y2="48"/>
<line x1="251.5" y1="512" x2="251.5" y2="516"/>
<line x1="323.5" y1="44" x2="323.5" y2="48"/>
<line x1="323.5" y1="512" x2="323.5" y2="516"/>
<line x1="395.5" y1="44" x2="395.5" y2="48"/>
<line x1="395.5" y1="512" x2="395.5" y2="516"/>
<line x1="467.5" y1="44" x2="467.5" y2="48"/>
<line x1="467.5" y1="512" x2="467.5" y2="516"/>
<line x1="539.5" y1="44" x2="539.5" y2="48"/>
<line x1="539.5" y1="512" x2="539.5" y2="516"/>
<line x1="611.5" y1="44" x2="611.5" y2="48"/>
<line x1="611.5" y1="512" x2="611.5" y2="516"/>
<line x1="65" y1="50.5" x2="69" y2="50.5"/>
<line x1="615" y1="50.5" x2="619" y2="50.5"/>
<line x1="65" y1="152.5" x2="69" y2="152.5"/>
<line x1="615" y1="152.5" x2="619" y2="152.5"/>
<line x1="65" y1="254.5" x2="69" y2="254.5"/>
<line x1="615" y1="254.5" x2="619" y2="254.5"/>
<line x1="65" y1="356.5" x2="69" y2="356.5"/>
<line x1="615" y1="356.5" x2="619" y2="356.5"/>
<line x1="65" y1="457.5" x2="69" y2="457.5"/>
<line x1="615" y1="457.5" x2="619" y2="457.5"/>
</g>
<g font-size="9.6" fill="#000" letter-spacing="0.45" stroke="#000" stroke-width="0.12">
<text x="107.5" y="43" text-anchor="middle">10°W</text>
<text x="107.5" y="524" text-anchor="middle">10°W</text>
<text x="179.5" y="43" text-anchor="middle">8°W</text>
<text x="179.5" y="524" text-anchor="middle">8°W</text>
<text x="251.5" y="43" text-anchor="middle">6°W</text>
<text x="251.5" y="524" text-anchor="middle">6°W</text>
<text x="323.5" y="43" text-anchor="middle">4°W</text>
<text x="323.5" y="524" text-anchor="middle">4°W</text>
<text x="395.5" y="43" text-anchor="middle">2°W</text>
<text x="395.5" y="524" text-anchor="middle">2°W</text>
<text x="467.5" y="43" text-anchor="middle">0°E</text>
<text x="467.5" y="524" text-anchor="middle">0°E</text>
<text x="539.5" y="43" text-anchor="middle">2°E</text>
<text x="539.5" y="524" text-anchor="middle">2°E</text>
<text x="613" y="43" text-anchor="end">4°E</text>
<text x="613" y="524" text-anchor="end">4°E</text>
<text x="64.5" y="57.2" text-anchor="end">52°N</text>
<text x="620" y="57.2" text-anchor="start">52°N</text>
<text x="64.5" y="155.9" text-anchor="end">50°N</text>
<text x="620" y="155.9" text-anchor="start">50°N</text>
<text x="64.5" y="257.9" text-anchor="end">48°N</text>
<text x="620" y="257.9" text-anchor="start">48°N</text>
<text x="64.5" y="359.9" text-anchor="end">46°N</text>
<text x="620" y="359.9" text-anchor="start">46°N</text>
<text x="64.5" y="460.9" text-anchor="end">44°N</text>
<text x="620" y="460.9" text-anchor="start">44°N</text>
</g>
<text x="216.4" y="12.7" font-size="13.4" font-weight="bold" fill="#186fd0" textLength="316.2" lengthAdjust="spacing">Hauteur significative et direction des vagues</text>
<text x="193.2" y="28.9" font-size="13.4" font-weight="bold" fill="#186fd0" textLength="128" lengthAdjust="spacing">le 27/12/2020 19:00</text>
<text x="325.4" y="28.8" font-size="9.8" fill="#146ad0" textLength="230.6" lengthAdjust="spacing">(heure légale) mise à jour du 26/12/2020 06h54</text>
<text x="262.5" y="534.3" font-size="9.8" fill="#146ad0" stroke="#146ad0" stroke-width="0.08" textLength="222.3" lengthAdjust="spacing" xml:space="preserve">Moy. : 5,43 m   -   Min. : 0,00 m / Max. : 9,12 m</text>
<text x="745" y="570.5" text-anchor="end" font-size="7.8" fill="#111" textLength="396.5" lengthAdjust="spacing">MODEL WAVEWATCH III (R) NORGAS-UG - MARC_WW3-NORGAS-2M - © MARC 2016 - Tous droits réservés</text>
<rect x="679.5" y="83.5" width="62" height="392" fill="#ffffff" stroke="#c4c4c4" stroke-width="1" shape-rendering="crispEdges"/>
<rect x="702" y="107" width="1.6" height="330.5" fill="#9a9a9a" opacity="0.7"/>
<rect x="692.5" y="436" width="11" height="1.5" fill="#9a9a9a" opacity="0.7"/>
<g shape-rendering="crispEdges">
<rect x="691" y="106" width="11" height="11" fill="#990055"/>
<rect x="691" y="117" width="11" height="11" fill="#ff00ff"/>
<rect x="691" y="128" width="11" height="11" fill="#660000"/>
<rect x="691" y="139" width="11" height="11" fill="#cc0000"/>
<rect x="691" y="150" width="11" height="11" fill="#804000"/>
<rect x="691" y="161" width="11" height="11" fill="#c08858"/>
<rect x="691" y="172" width="11" height="11" fill="#ff0000"/>
<rect x="691" y="183" width="11" height="11" fill="#ff6666"/>
<rect x="691" y="194" width="11" height="11" fill="#ffcccc"/>
<rect x="691" y="205" width="11" height="11" fill="#ff8c00"/>
<rect x="691" y="216" width="11" height="11" fill="#ffb40a"/>
<rect x="691" y="227" width="11" height="11" fill="#ffff00"/>
<rect x="691" y="238" width="11" height="11" fill="#ffff99"/>
<rect x="691" y="249" width="11" height="11" fill="#00bb2d"/>
<rect x="691" y="260" width="11" height="11" fill="#00cc77"/>
<rect x="691" y="271" width="11" height="11" fill="#00e68a"/>
<rect x="691" y="282" width="11" height="11" fill="#00ff22"/>
<rect x="691" y="293" width="11" height="11" fill="#88ff55"/>
<rect x="691" y="304" width="11" height="11" fill="#e6ff99"/>
<rect x="691" y="315" width="11" height="11" fill="#0000bb"/>
<rect x="691" y="326" width="11" height="11" fill="#0044dd"/>
<rect x="691" y="337" width="11" height="11" fill="#0088ff"/>
<rect x="691" y="348" width="11" height="11" fill="#33bbff"/>
<rect x="691" y="359" width="11" height="11" fill="#80ffff"/>
<rect x="691" y="370" width="11" height="11" fill="#5522aa"/>
<rect x="691" y="381" width="11" height="11" fill="#8866dd"/>
<rect x="691" y="392" width="11" height="11" fill="#ccaaff"/>
<rect x="691" y="403" width="11" height="11" fill="#c8b090"/>
<rect x="691" y="414" width="11" height="11" fill="#d8c0a8"/>
<rect x="691" y="425" width="11" height="11" fill="#f0d8c0"/>
</g>
<polygon points="691,106 702,106 696.5,95" fill="#000"/>
<g font-size="9.4" fill="#000" stroke="#000" stroke-width="0.12">
<text x="724.0" y="109.4" text-anchor="end">15,0</text>
<text x="724.0" y="120.4" text-anchor="end">14,0</text>
<text x="724.0" y="131.4" text-anchor="end">13,0</text>
<text x="724.0" y="142.4" text-anchor="end">12,0</text>
<text x="724.0" y="153.4" text-anchor="end">11,0</text>
<text x="724.0" y="164.4" text-anchor="end">10,0</text>
<text x="724.0" y="175.4" text-anchor="end">9,0</text>
<text x="724.0" y="186.4" text-anchor="end">8,0</text>
<text x="724.0" y="197.4" text-anchor="end">7,0</text>
<text x="724.0" y="208.4" text-anchor="end">6,0</text>
<text x="724.0" y="219.4" text-anchor="end">5,5</text>
<text x="724.0" y="230.4" text-anchor="end">5,0</text>
<text x="724.0" y="241.4" text-anchor="end">4,5</text>
<text x="724.0" y="252.4" text-anchor="end">4,0</text>
<text x="729.2" y="263.4" text-anchor="end">3,75</text>
<text x="724.0" y="274.4" text-anchor="end">3,5</text>
<text x="729.2" y="285.4" text-anchor="end">3,25</text>
<text x="724.0" y="296.4" text-anchor="end">3,0</text>
<text x="729.2" y="307.4" text-anchor="end">2,75</text>
<text x="724.0" y="318.4" text-anchor="end">2,5</text>
<text x="729.2" y="329.4" text-anchor="end">2,25</text>
<text x="724.0" y="340.4" text-anchor="end">2,0</text>
<text x="729.2" y="351.4" text-anchor="end">1,75</text>
<text x="724.0" y="362.4" text-anchor="end">1,5</text>
<text x="729.2" y="373.4" text-anchor="end">1,25</text>
<text x="724.0" y="384.4" text-anchor="end">1,0</text>
<text x="729.2" y="395.4" text-anchor="end">0,75</text>
<text x="724.0" y="406.4" text-anchor="end">0,5</text>
<text x="729.2" y="417.4" text-anchor="end">0,25</text>
<text x="724.0" y="428.4" text-anchor="end">0,1</text>
<text x="724.0" y="439.4" text-anchor="end">0,0</text>
<text x="713.5" y="97" text-anchor="middle" font-size="7">∞</text>
</g>
<text x="692.5" y="456" font-size="9.8" fill="#1469d0" stroke="#1469d0" stroke-width="0.1" textLength="35.5" lengthAdjust="spacing">Unité:m</text>
<text x="697.7" y="474" font-size="9.8" fill="#000" stroke="#000" stroke-width="0.12" textLength="40.3" lengthAdjust="spacing">direction</text>
<path d="M682 470.5H691" stroke="#000" stroke-width="0.9" fill="none"/><polygon points="693.6,470.5 689.4,468.9 689.4,472.1" fill="#000"/>
<g>
<rect x="40" y="550" width="103" height="22.5" fill="#ffffff"/>
<rect x="40" y="560.6" width="103" height="7.2" fill="#fff200"/>
<path d="M64 563 L66 557 L67.5 553.5 L72 554 L80 553.5 L86 555 L91 558 L92 560.6 L70 560.6 L66.5 564 Z" fill="#b8b8b8"/>
<text x="72.6" y="571.6" font-size="12.6" font-weight="bold" fill="#111" textLength="46" lengthAdjust="spacingAndGlyphs">Ifremer</text>
<g transform="rotate(-28 20.5 557)"><ellipse cx="20.5" cy="557" rx="15.8" ry="12.2" fill="url(#lg)"/><ellipse cx="20.5" cy="557" rx="16.6" ry="12.9" fill="none" stroke="#9a9a9a" stroke-width="0.5"/></g>
<path d="M23.5 545.5 Q29 541.5 33.5 545 Q35.5 549 34 553 Q30 548 23.5 545.5Z" fill="#cfe4f6"/>
<path d="M27 544 Q31 544 33.2 548.5 Q30.5 545.8 27 544Z" fill="#8fc4ee"/>
<path d="M13 566.5 Q21 575 31 566 Q27 569.5 21.5 568.2 Q17 568.6 13 566.5Z" fill="#8ec6f0"/>
<path d="M21 565.5 Q26 562 30.5 565.5 Q26 568.5 21 565.5Z" fill="#ffffff" opacity="0.85"/>
<ellipse cx="17.3" cy="560.5" rx="4.6" ry="5" fill="#e24a3a" opacity="0.9"/>
<circle cx="29.9" cy="543.6" r="1.5" fill="#111"/>
<text x="4.4" y="563" font-size="13.6" font-weight="bold" font-style="italic" fill="#ffffff" stroke="#8a8a8a" stroke-width="0.9" paint-order="stroke" textLength="33" lengthAdjust="spacingAndGlyphs">LOPS</text>
</g>
</svg></body></html>
